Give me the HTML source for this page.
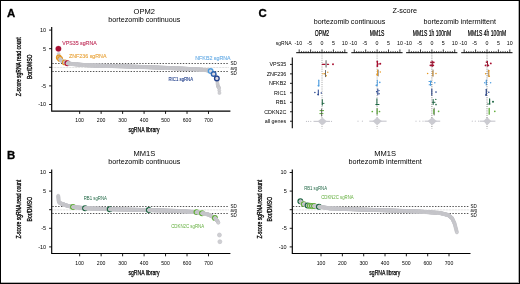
<!DOCTYPE html><html><head><meta charset="utf-8"><style>html,body{margin:0;padding:0;background:#fff;}svg{display:block;will-change:transform;}</style></head><body>
<svg width="520" height="284" viewBox="0 0 520 284" font-family="Liberation Sans, sans-serif">
<rect x="0" y="0" width="520" height="284" fill="#fff"/>
<text x="6.90" y="16.60" font-size="11.4" fill="#000" font-weight="bold" stroke="#000" stroke-width="0.3">A</text>
<text x="144.30" y="13.60" font-size="7.8" fill="#000" text-anchor="middle" textLength="21.40" lengthAdjust="spacingAndGlyphs">OPM2</text>
<text x="144.30" y="22.00" font-size="7.2" fill="#000" text-anchor="middle" textLength="71.90" lengthAdjust="spacingAndGlyphs">bortezomib continuous</text>
<text x="21.10" y="66.80" font-size="6.4" fill="#000" text-anchor="middle" textLength="58.80" lengthAdjust="spacingAndGlyphs" transform="rotate(-90 21.10 66.80)" stroke="#000" stroke-width="0.3">Z-score sgRNA read count</text>
<text x="31.80" y="66.80" font-size="6.4" fill="#000" text-anchor="middle" textLength="24.60" lengthAdjust="spacingAndGlyphs" transform="rotate(-90 31.80 66.80)" stroke="#000" stroke-width="0.3">Bor/DMSO</text>
<line x1="52.30" y1="63.50" x2="229.10" y2="63.50" stroke="#444" stroke-width="0.9" stroke-dasharray="1.45 1.45"/>
<line x1="52.30" y1="71.50" x2="229.10" y2="71.50" stroke="#444" stroke-width="0.9" stroke-dasharray="1.45 1.45"/>
<line x1="52.30" y1="67.50" x2="229.10" y2="67.50" stroke="#c4c4c4" stroke-width="0.7" stroke-dasharray="0.8 0.7"/>
<text x="230.40" y="65.20" font-size="4.6" fill="#000" textLength="6.30" lengthAdjust="spacingAndGlyphs">SD</text>
<text x="230.40" y="70.20" font-size="4.6" fill="#000" textLength="6.50" lengthAdjust="spacingAndGlyphs">avg</text>
<text x="230.40" y="74.60" font-size="4.6" fill="#000" textLength="6.30" lengthAdjust="spacingAndGlyphs">SD</text>
<path d="M51.70 27.00V111.10H230.40" fill="none" stroke="#000" stroke-width="1.15"/>
<line x1="49.10" y1="30.10" x2="51.70" y2="30.10" stroke="#000" stroke-width="0.9"/>
<text x="46.10" y="32.05" font-size="5.5" fill="#000" text-anchor="end">10</text>
<line x1="49.10" y1="48.70" x2="51.70" y2="48.70" stroke="#000" stroke-width="0.9"/>
<text x="46.10" y="50.65" font-size="5.5" fill="#000" text-anchor="end">5</text>
<line x1="49.10" y1="67.30" x2="51.70" y2="67.30" stroke="#000" stroke-width="0.9"/>
<line x1="49.10" y1="85.90" x2="51.70" y2="85.90" stroke="#000" stroke-width="0.9"/>
<text x="46.10" y="87.85" font-size="5.5" fill="#000" text-anchor="end">-5</text>
<line x1="49.10" y1="104.50" x2="51.70" y2="104.50" stroke="#000" stroke-width="0.9"/>
<text x="46.10" y="106.45" font-size="5.5" fill="#000" text-anchor="end">-10</text>
<line x1="79.67" y1="111.10" x2="79.67" y2="113.90" stroke="#000" stroke-width="0.9"/>
<text x="79.67" y="122.00" font-size="5.3" fill="#000" text-anchor="middle" textLength="8.60" lengthAdjust="spacingAndGlyphs">100</text>
<line x1="101.14" y1="111.10" x2="101.14" y2="113.90" stroke="#000" stroke-width="0.9"/>
<text x="101.14" y="122.00" font-size="5.3" fill="#000" text-anchor="middle" textLength="8.60" lengthAdjust="spacingAndGlyphs">200</text>
<line x1="122.61" y1="111.10" x2="122.61" y2="113.90" stroke="#000" stroke-width="0.9"/>
<text x="122.61" y="122.00" font-size="5.3" fill="#000" text-anchor="middle" textLength="8.60" lengthAdjust="spacingAndGlyphs">300</text>
<line x1="144.08" y1="111.10" x2="144.08" y2="113.90" stroke="#000" stroke-width="0.9"/>
<text x="144.08" y="122.00" font-size="5.3" fill="#000" text-anchor="middle" textLength="8.60" lengthAdjust="spacingAndGlyphs">400</text>
<line x1="165.55" y1="111.10" x2="165.55" y2="113.90" stroke="#000" stroke-width="0.9"/>
<text x="165.55" y="122.00" font-size="5.3" fill="#000" text-anchor="middle" textLength="8.60" lengthAdjust="spacingAndGlyphs">500</text>
<line x1="187.02" y1="111.10" x2="187.02" y2="113.90" stroke="#000" stroke-width="0.9"/>
<text x="187.02" y="122.00" font-size="5.3" fill="#000" text-anchor="middle" textLength="8.60" lengthAdjust="spacingAndGlyphs">600</text>
<line x1="208.49" y1="111.10" x2="208.49" y2="113.90" stroke="#000" stroke-width="0.9"/>
<text x="208.49" y="122.00" font-size="5.3" fill="#000" text-anchor="middle" textLength="8.60" lengthAdjust="spacingAndGlyphs">700</text>
<text x="144.00" y="132.40" font-size="7.0" fill="#000" text-anchor="middle" textLength="31.00" lengthAdjust="spacingAndGlyphs" stroke="#000" stroke-width="0.25">sgRNA library</text>
<g fill="#cfcfd3" stroke="#c3c3c8" stroke-width="0.65">
<circle cx="58.41" cy="48.81" r="2.75" fill="#a90f33" stroke="#a90f33" stroke-width="0.3"/>
<circle cx="58.63" cy="53.91" r="1.5"/>
<circle cx="58.84" cy="57.40" r="2.3" fill="#dcd8e2" stroke="#e5961f" stroke-width="1.35"/>
<circle cx="59.06" cy="57.80" r="1.5"/>
<circle cx="59.27" cy="58.19" r="1.5"/>
<circle cx="59.49" cy="58.36" r="1.5"/>
<circle cx="59.70" cy="58.54" r="1.5"/>
<circle cx="59.92" cy="58.72" r="1.5"/>
<circle cx="60.13" cy="58.89" r="2.3" fill="#dcd8e2" stroke="#e5961f" stroke-width="1.35"/>
<circle cx="60.35" cy="59.21" r="1.5"/>
<circle cx="60.56" cy="59.53" r="1.5"/>
<circle cx="60.78" cy="59.85" r="1.5"/>
<circle cx="60.99" cy="60.17" r="1.5"/>
<circle cx="61.21" cy="60.49" r="1.5"/>
<circle cx="61.42" cy="60.63" r="1.5"/>
<circle cx="61.64" cy="60.78" r="1.5"/>
<circle cx="61.85" cy="60.92" r="1.5"/>
<circle cx="62.06" cy="61.06" r="1.5"/>
<circle cx="62.28" cy="61.21" r="1.5"/>
<circle cx="62.49" cy="61.35" r="1.5"/>
<circle cx="62.71" cy="61.44" r="1.5"/>
<circle cx="62.92" cy="61.54" r="1.5"/>
<circle cx="63.14" cy="61.63" r="1.5"/>
<circle cx="63.35" cy="61.73" r="1.5"/>
<circle cx="63.57" cy="61.82" r="1.5"/>
<circle cx="63.78" cy="61.92" r="1.5"/>
<circle cx="64.00" cy="62.01" r="1.5"/>
<circle cx="64.21" cy="62.11" r="1.5"/>
<circle cx="64.43" cy="62.20" r="1.5"/>
<circle cx="64.64" cy="62.29" r="1.5"/>
<circle cx="64.86" cy="62.39" r="2.3" fill="#dcd8e2" stroke="#e5961f" stroke-width="1.35"/>
<circle cx="65.07" cy="62.46" r="1.5"/>
<circle cx="65.29" cy="62.53" r="1.5"/>
<circle cx="65.50" cy="62.59" r="1.5"/>
<circle cx="65.71" cy="62.66" r="1.5"/>
<circle cx="65.93" cy="62.73" r="1.5"/>
<circle cx="66.14" cy="62.80" r="1.5"/>
<circle cx="66.36" cy="62.87" r="1.5"/>
<circle cx="66.57" cy="62.94" r="1.5"/>
<circle cx="66.79" cy="63.00" r="1.5"/>
<circle cx="67.00" cy="63.07" r="1.5"/>
<circle cx="67.22" cy="63.14" r="1.5"/>
<circle cx="67.43" cy="63.21" r="2.3" fill="#dcd8e2" stroke="#b3133c" stroke-width="1.35"/>
<circle cx="67.65" cy="63.25" r="1.5"/>
<circle cx="67.86" cy="63.28" r="1.5"/>
<circle cx="68.08" cy="63.32" r="1.5"/>
<circle cx="68.29" cy="63.36" r="1.5"/>
<circle cx="68.51" cy="63.39" r="1.5"/>
<circle cx="68.72" cy="63.43" r="1.5"/>
<circle cx="68.94" cy="63.47" r="1.5"/>
<circle cx="69.15" cy="63.51" r="1.5"/>
<circle cx="69.36" cy="63.54" r="1.5"/>
<circle cx="69.58" cy="63.58" r="1.5"/>
<circle cx="69.79" cy="63.62" r="1.5"/>
<circle cx="70.01" cy="63.65" r="1.5"/>
<circle cx="70.22" cy="63.69" r="1.5"/>
<circle cx="70.44" cy="63.73" r="1.5"/>
<circle cx="70.65" cy="63.77" r="1.5"/>
<circle cx="70.87" cy="63.80" r="1.5"/>
<circle cx="71.08" cy="63.84" r="1.5"/>
<circle cx="71.30" cy="63.88" r="1.5"/>
<circle cx="71.51" cy="63.91" r="1.5"/>
<circle cx="71.73" cy="63.95" r="1.5"/>
<circle cx="71.94" cy="63.99" r="1.5"/>
<circle cx="72.16" cy="64.01" r="1.5"/>
<circle cx="72.37" cy="64.03" r="1.5"/>
<circle cx="72.58" cy="64.05" r="1.5"/>
<circle cx="72.80" cy="64.06" r="1.5"/>
<circle cx="73.01" cy="64.08" r="1.5"/>
<circle cx="73.23" cy="64.10" r="1.5"/>
<circle cx="73.44" cy="64.12" r="1.5"/>
<circle cx="73.66" cy="64.14" r="1.5"/>
<circle cx="73.87" cy="64.16" r="1.5"/>
<circle cx="74.09" cy="64.18" r="1.5"/>
<circle cx="74.30" cy="64.19" r="1.5"/>
<circle cx="74.52" cy="64.21" r="1.5"/>
<circle cx="74.73" cy="64.23" r="1.5"/>
<circle cx="74.95" cy="64.25" r="1.5"/>
<circle cx="75.16" cy="64.27" r="1.5"/>
<circle cx="75.38" cy="64.29" r="1.5"/>
<circle cx="75.59" cy="64.31" r="1.5"/>
<circle cx="75.81" cy="64.32" r="1.5"/>
<circle cx="76.02" cy="64.34" r="1.5"/>
<circle cx="76.23" cy="64.36" r="1.5"/>
<circle cx="76.45" cy="64.38" r="1.5"/>
<circle cx="76.66" cy="64.40" r="1.5"/>
<circle cx="76.88" cy="64.42" r="1.5"/>
<circle cx="77.09" cy="64.44" r="1.5"/>
<circle cx="77.31" cy="64.45" r="1.5"/>
<circle cx="77.52" cy="64.47" r="1.5"/>
<circle cx="77.74" cy="64.49" r="1.5"/>
<circle cx="77.95" cy="64.51" r="1.5"/>
<circle cx="78.17" cy="64.53" r="1.5"/>
<circle cx="78.38" cy="64.55" r="1.5"/>
<circle cx="78.60" cy="64.57" r="1.5"/>
<circle cx="78.81" cy="64.58" r="1.5"/>
<circle cx="79.03" cy="64.60" r="1.5"/>
<circle cx="79.24" cy="64.62" r="1.5"/>
<circle cx="79.46" cy="64.64" r="1.5"/>
<circle cx="79.67" cy="64.66" r="1.5"/>
<circle cx="79.88" cy="64.68" r="1.5"/>
<circle cx="80.10" cy="64.70" r="1.5"/>
<circle cx="80.31" cy="64.71" r="1.5"/>
<circle cx="80.53" cy="64.73" r="1.5"/>
<circle cx="80.74" cy="64.75" r="1.5"/>
<circle cx="80.96" cy="64.77" r="1.5"/>
<circle cx="81.17" cy="64.79" r="1.5"/>
<circle cx="81.39" cy="64.81" r="1.5"/>
<circle cx="81.60" cy="64.83" r="1.5"/>
<circle cx="81.82" cy="64.84" r="1.5"/>
<circle cx="82.03" cy="64.86" r="1.5"/>
<circle cx="82.25" cy="64.88" r="1.5"/>
<circle cx="82.46" cy="64.90" r="1.5"/>
<circle cx="82.68" cy="64.92" r="1.5"/>
<circle cx="82.89" cy="64.94" r="1.5"/>
<circle cx="83.11" cy="64.96" r="1.5"/>
<circle cx="83.32" cy="64.97" r="1.5"/>
<circle cx="83.53" cy="64.99" r="1.5"/>
<circle cx="83.75" cy="65.01" r="1.5"/>
<circle cx="83.96" cy="65.03" r="1.5"/>
<circle cx="84.18" cy="65.05" r="1.5"/>
<circle cx="84.39" cy="65.07" r="1.5"/>
<circle cx="84.61" cy="65.09" r="1.5"/>
<circle cx="84.82" cy="65.11" r="1.5"/>
<circle cx="85.04" cy="65.12" r="1.5"/>
<circle cx="85.25" cy="65.14" r="1.5"/>
<circle cx="85.47" cy="65.16" r="1.5"/>
<circle cx="85.68" cy="65.18" r="1.5"/>
<circle cx="85.90" cy="65.20" r="1.5"/>
<circle cx="86.11" cy="65.22" r="1.5"/>
<circle cx="86.33" cy="65.22" r="1.5"/>
<circle cx="86.54" cy="65.23" r="1.5"/>
<circle cx="86.76" cy="65.24" r="1.5"/>
<circle cx="86.97" cy="65.25" r="1.5"/>
<circle cx="87.18" cy="65.25" r="1.5"/>
<circle cx="87.40" cy="65.26" r="1.5"/>
<circle cx="87.61" cy="65.27" r="1.5"/>
<circle cx="87.83" cy="65.27" r="1.5"/>
<circle cx="88.04" cy="65.28" r="1.5"/>
<circle cx="88.26" cy="65.29" r="1.5"/>
<circle cx="88.47" cy="65.30" r="1.5"/>
<circle cx="88.69" cy="65.30" r="1.5"/>
<circle cx="88.90" cy="65.31" r="1.5"/>
<circle cx="89.12" cy="65.32" r="1.5"/>
<circle cx="89.33" cy="65.32" r="1.5"/>
<circle cx="89.55" cy="65.33" r="1.5"/>
<circle cx="89.76" cy="65.34" r="1.5"/>
<circle cx="89.98" cy="65.35" r="1.5"/>
<circle cx="90.19" cy="65.35" r="1.5"/>
<circle cx="90.41" cy="65.36" r="1.5"/>
<circle cx="90.62" cy="65.37" r="1.5"/>
<circle cx="90.83" cy="65.38" r="1.5"/>
<circle cx="91.05" cy="65.38" r="1.5"/>
<circle cx="91.26" cy="65.39" r="1.5"/>
<circle cx="91.48" cy="65.40" r="1.5"/>
<circle cx="91.69" cy="65.40" r="1.5"/>
<circle cx="91.91" cy="65.41" r="1.5"/>
<circle cx="92.12" cy="65.42" r="1.5"/>
<circle cx="92.34" cy="65.43" r="1.5"/>
<circle cx="92.55" cy="65.43" r="1.5"/>
<circle cx="92.77" cy="65.44" r="1.5"/>
<circle cx="92.98" cy="65.45" r="1.5"/>
<circle cx="93.20" cy="65.45" r="1.5"/>
<circle cx="93.41" cy="65.46" r="1.5"/>
<circle cx="93.63" cy="65.47" r="1.5"/>
<circle cx="93.84" cy="65.48" r="1.5"/>
<circle cx="94.05" cy="65.48" r="1.5"/>
<circle cx="94.27" cy="65.49" r="1.5"/>
<circle cx="94.48" cy="65.50" r="1.5"/>
<circle cx="94.70" cy="65.50" r="1.5"/>
<circle cx="94.91" cy="65.51" r="1.5"/>
<circle cx="95.13" cy="65.52" r="1.5"/>
<circle cx="95.34" cy="65.53" r="1.5"/>
<circle cx="95.56" cy="65.53" r="1.5"/>
<circle cx="95.77" cy="65.54" r="1.5"/>
<circle cx="95.99" cy="65.55" r="1.5"/>
<circle cx="96.20" cy="65.56" r="1.5"/>
<circle cx="96.42" cy="65.56" r="1.5"/>
<circle cx="96.63" cy="65.57" r="1.5"/>
<circle cx="96.85" cy="65.58" r="1.5"/>
<circle cx="97.06" cy="65.58" r="1.5"/>
<circle cx="97.28" cy="65.59" r="1.5"/>
<circle cx="97.49" cy="65.60" r="1.5"/>
<circle cx="97.70" cy="65.61" r="1.5"/>
<circle cx="97.92" cy="65.61" r="1.5"/>
<circle cx="98.13" cy="65.62" r="1.5"/>
<circle cx="98.35" cy="65.63" r="1.5"/>
<circle cx="98.56" cy="65.63" r="1.5"/>
<circle cx="98.78" cy="65.64" r="1.5"/>
<circle cx="98.99" cy="65.65" r="1.5"/>
<circle cx="99.21" cy="65.66" r="1.5"/>
<circle cx="99.42" cy="65.66" r="1.5"/>
<circle cx="99.64" cy="65.67" r="1.5"/>
<circle cx="99.85" cy="65.68" r="1.5"/>
<circle cx="100.07" cy="65.68" r="1.5"/>
<circle cx="100.28" cy="65.69" r="1.5"/>
<circle cx="100.50" cy="65.70" r="1.5"/>
<circle cx="100.71" cy="65.71" r="1.5"/>
<circle cx="100.93" cy="65.71" r="1.5"/>
<circle cx="101.14" cy="65.72" r="1.5"/>
<circle cx="101.35" cy="65.73" r="1.5"/>
<circle cx="101.57" cy="65.74" r="1.5"/>
<circle cx="101.78" cy="65.74" r="1.5"/>
<circle cx="102.00" cy="65.75" r="1.5"/>
<circle cx="102.21" cy="65.76" r="1.5"/>
<circle cx="102.43" cy="65.76" r="1.5"/>
<circle cx="102.64" cy="65.77" r="1.5"/>
<circle cx="102.86" cy="65.78" r="1.5"/>
<circle cx="103.07" cy="65.79" r="1.5"/>
<circle cx="103.29" cy="65.79" r="1.5"/>
<circle cx="103.50" cy="65.80" r="1.5"/>
<circle cx="103.72" cy="65.81" r="1.5"/>
<circle cx="103.93" cy="65.81" r="1.5"/>
<circle cx="104.15" cy="65.82" r="1.5"/>
<circle cx="104.36" cy="65.83" r="1.5"/>
<circle cx="104.58" cy="65.84" r="1.5"/>
<circle cx="104.79" cy="65.84" r="1.5"/>
<circle cx="105.00" cy="65.85" r="1.5"/>
<circle cx="105.22" cy="65.86" r="1.5"/>
<circle cx="105.43" cy="65.86" r="1.5"/>
<circle cx="105.65" cy="65.87" r="1.5"/>
<circle cx="105.86" cy="65.88" r="1.5"/>
<circle cx="106.08" cy="65.89" r="1.5"/>
<circle cx="106.29" cy="65.89" r="1.5"/>
<circle cx="106.51" cy="65.90" r="1.5"/>
<circle cx="106.72" cy="65.90" r="1.5"/>
<circle cx="106.94" cy="65.91" r="1.5"/>
<circle cx="107.15" cy="65.91" r="1.5"/>
<circle cx="107.37" cy="65.92" r="1.5"/>
<circle cx="107.58" cy="65.93" r="1.5"/>
<circle cx="107.80" cy="65.93" r="1.5"/>
<circle cx="108.01" cy="65.94" r="1.5"/>
<circle cx="108.23" cy="65.94" r="1.5"/>
<circle cx="108.44" cy="65.95" r="1.5"/>
<circle cx="108.65" cy="65.95" r="1.5"/>
<circle cx="108.87" cy="65.96" r="1.5"/>
<circle cx="109.08" cy="65.96" r="1.5"/>
<circle cx="109.30" cy="65.97" r="1.5"/>
<circle cx="109.51" cy="65.98" r="1.5"/>
<circle cx="109.73" cy="65.98" r="1.5"/>
<circle cx="109.94" cy="65.99" r="1.5"/>
<circle cx="110.16" cy="65.99" r="1.5"/>
<circle cx="110.37" cy="66.00" r="1.5"/>
<circle cx="110.59" cy="66.00" r="1.5"/>
<circle cx="110.80" cy="66.01" r="1.5"/>
<circle cx="111.02" cy="66.02" r="1.5"/>
<circle cx="111.23" cy="66.02" r="1.5"/>
<circle cx="111.45" cy="66.03" r="1.5"/>
<circle cx="111.66" cy="66.03" r="1.5"/>
<circle cx="111.88" cy="66.04" r="1.5"/>
<circle cx="112.09" cy="66.04" r="1.5"/>
<circle cx="112.30" cy="66.05" r="1.5"/>
<circle cx="112.52" cy="66.05" r="1.5"/>
<circle cx="112.73" cy="66.06" r="1.5"/>
<circle cx="112.95" cy="66.07" r="1.5"/>
<circle cx="113.16" cy="66.07" r="1.5"/>
<circle cx="113.38" cy="66.08" r="1.5"/>
<circle cx="113.59" cy="66.08" r="1.5"/>
<circle cx="113.81" cy="66.09" r="1.5"/>
<circle cx="114.02" cy="66.09" r="1.5"/>
<circle cx="114.24" cy="66.10" r="1.5"/>
<circle cx="114.45" cy="66.10" r="1.5"/>
<circle cx="114.67" cy="66.11" r="1.5"/>
<circle cx="114.88" cy="66.12" r="1.5"/>
<circle cx="115.10" cy="66.12" r="1.5"/>
<circle cx="115.31" cy="66.13" r="1.5"/>
<circle cx="115.52" cy="66.13" r="1.5"/>
<circle cx="115.74" cy="66.14" r="1.5"/>
<circle cx="115.95" cy="66.14" r="1.5"/>
<circle cx="116.17" cy="66.15" r="1.5"/>
<circle cx="116.38" cy="66.16" r="1.5"/>
<circle cx="116.60" cy="66.16" r="1.5"/>
<circle cx="116.81" cy="66.17" r="1.5"/>
<circle cx="117.03" cy="66.17" r="1.5"/>
<circle cx="117.24" cy="66.18" r="1.5"/>
<circle cx="117.46" cy="66.18" r="1.5"/>
<circle cx="117.67" cy="66.19" r="1.5"/>
<circle cx="117.89" cy="66.19" r="1.5"/>
<circle cx="118.10" cy="66.20" r="1.5"/>
<circle cx="118.32" cy="66.21" r="1.5"/>
<circle cx="118.53" cy="66.21" r="1.5"/>
<circle cx="118.75" cy="66.22" r="1.5"/>
<circle cx="118.96" cy="66.22" r="1.5"/>
<circle cx="119.17" cy="66.23" r="1.5"/>
<circle cx="119.39" cy="66.23" r="1.5"/>
<circle cx="119.60" cy="66.24" r="1.5"/>
<circle cx="119.82" cy="66.24" r="1.5"/>
<circle cx="120.03" cy="66.25" r="1.5"/>
<circle cx="120.25" cy="66.26" r="1.5"/>
<circle cx="120.46" cy="66.26" r="1.5"/>
<circle cx="120.68" cy="66.27" r="1.5"/>
<circle cx="120.89" cy="66.27" r="1.5"/>
<circle cx="121.11" cy="66.28" r="1.5"/>
<circle cx="121.32" cy="66.28" r="1.5"/>
<circle cx="121.54" cy="66.29" r="1.5"/>
<circle cx="121.75" cy="66.30" r="1.5"/>
<circle cx="121.97" cy="66.30" r="1.5"/>
<circle cx="122.18" cy="66.31" r="1.5"/>
<circle cx="122.40" cy="66.31" r="1.5"/>
<circle cx="122.61" cy="66.32" r="1.5"/>
<circle cx="122.82" cy="66.32" r="1.5"/>
<circle cx="123.04" cy="66.33" r="1.5"/>
<circle cx="123.25" cy="66.33" r="1.5"/>
<circle cx="123.47" cy="66.34" r="1.5"/>
<circle cx="123.68" cy="66.35" r="1.5"/>
<circle cx="123.90" cy="66.35" r="1.5"/>
<circle cx="124.11" cy="66.36" r="1.5"/>
<circle cx="124.33" cy="66.36" r="1.5"/>
<circle cx="124.54" cy="66.37" r="1.5"/>
<circle cx="124.76" cy="66.37" r="1.5"/>
<circle cx="124.97" cy="66.38" r="1.5"/>
<circle cx="125.19" cy="66.38" r="1.5"/>
<circle cx="125.40" cy="66.39" r="1.5"/>
<circle cx="125.62" cy="66.40" r="1.5"/>
<circle cx="125.83" cy="66.40" r="1.5"/>
<circle cx="126.05" cy="66.41" r="1.5"/>
<circle cx="126.26" cy="66.41" r="1.5"/>
<circle cx="126.47" cy="66.42" r="1.5"/>
<circle cx="126.69" cy="66.43" r="1.5"/>
<circle cx="126.90" cy="66.44" r="1.5"/>
<circle cx="127.12" cy="66.45" r="1.5"/>
<circle cx="127.33" cy="66.45" r="1.5"/>
<circle cx="127.55" cy="66.46" r="1.5"/>
<circle cx="127.76" cy="66.47" r="1.5"/>
<circle cx="127.98" cy="66.48" r="1.5"/>
<circle cx="128.19" cy="66.48" r="1.5"/>
<circle cx="128.41" cy="66.49" r="1.5"/>
<circle cx="128.62" cy="66.50" r="1.5"/>
<circle cx="128.84" cy="66.51" r="1.5"/>
<circle cx="129.05" cy="66.51" r="1.5"/>
<circle cx="129.27" cy="66.52" r="1.5"/>
<circle cx="129.48" cy="66.53" r="1.5"/>
<circle cx="129.70" cy="66.54" r="1.5"/>
<circle cx="129.91" cy="66.54" r="1.5"/>
<circle cx="130.12" cy="66.55" r="1.5"/>
<circle cx="130.34" cy="66.56" r="1.5"/>
<circle cx="130.55" cy="66.57" r="1.5"/>
<circle cx="130.77" cy="66.57" r="1.5"/>
<circle cx="130.98" cy="66.58" r="1.5"/>
<circle cx="131.20" cy="66.59" r="1.5"/>
<circle cx="131.41" cy="66.60" r="1.5"/>
<circle cx="131.63" cy="66.60" r="1.5"/>
<circle cx="131.84" cy="66.61" r="1.5"/>
<circle cx="132.06" cy="66.62" r="1.5"/>
<circle cx="132.27" cy="66.63" r="1.5"/>
<circle cx="132.49" cy="66.64" r="1.5"/>
<circle cx="132.70" cy="66.64" r="1.5"/>
<circle cx="132.92" cy="66.65" r="1.5"/>
<circle cx="133.13" cy="66.66" r="1.5"/>
<circle cx="133.34" cy="66.67" r="1.5"/>
<circle cx="133.56" cy="66.67" r="1.5"/>
<circle cx="133.77" cy="66.68" r="1.5"/>
<circle cx="133.99" cy="66.69" r="1.5"/>
<circle cx="134.20" cy="66.70" r="1.5"/>
<circle cx="134.42" cy="66.70" r="1.5"/>
<circle cx="134.63" cy="66.71" r="1.5"/>
<circle cx="134.85" cy="66.72" r="1.5"/>
<circle cx="135.06" cy="66.73" r="1.5"/>
<circle cx="135.28" cy="66.73" r="1.5"/>
<circle cx="135.49" cy="66.74" r="1.5"/>
<circle cx="135.71" cy="66.75" r="1.5"/>
<circle cx="135.92" cy="66.76" r="1.5"/>
<circle cx="136.14" cy="66.76" r="1.5"/>
<circle cx="136.35" cy="66.77" r="1.5"/>
<circle cx="136.57" cy="66.78" r="1.5"/>
<circle cx="136.78" cy="66.79" r="1.5"/>
<circle cx="136.99" cy="66.79" r="1.5"/>
<circle cx="137.21" cy="66.80" r="1.5"/>
<circle cx="137.42" cy="66.81" r="1.5"/>
<circle cx="137.64" cy="66.82" r="1.5"/>
<circle cx="137.85" cy="66.83" r="1.5"/>
<circle cx="138.07" cy="66.83" r="1.5"/>
<circle cx="138.28" cy="66.84" r="1.5"/>
<circle cx="138.50" cy="66.85" r="1.5"/>
<circle cx="138.71" cy="66.86" r="1.5"/>
<circle cx="138.93" cy="66.86" r="1.5"/>
<circle cx="139.14" cy="66.87" r="1.5"/>
<circle cx="139.36" cy="66.88" r="1.5"/>
<circle cx="139.57" cy="66.89" r="1.5"/>
<circle cx="139.79" cy="66.89" r="1.5"/>
<circle cx="140.00" cy="66.90" r="1.5"/>
<circle cx="140.22" cy="66.91" r="1.5"/>
<circle cx="140.43" cy="66.92" r="1.5"/>
<circle cx="140.64" cy="66.92" r="1.5"/>
<circle cx="140.86" cy="66.93" r="1.5"/>
<circle cx="141.07" cy="66.94" r="1.5"/>
<circle cx="141.29" cy="66.95" r="1.5"/>
<circle cx="141.50" cy="66.95" r="1.5"/>
<circle cx="141.72" cy="66.96" r="1.5"/>
<circle cx="141.93" cy="66.97" r="1.5"/>
<circle cx="142.15" cy="66.98" r="1.5"/>
<circle cx="142.36" cy="66.98" r="1.5"/>
<circle cx="142.58" cy="66.99" r="1.5"/>
<circle cx="142.79" cy="67.00" r="1.5"/>
<circle cx="143.01" cy="67.01" r="1.5"/>
<circle cx="143.22" cy="67.02" r="1.5"/>
<circle cx="143.44" cy="67.02" r="1.5"/>
<circle cx="143.65" cy="67.03" r="1.5"/>
<circle cx="143.87" cy="67.04" r="1.5"/>
<circle cx="144.08" cy="67.05" r="1.5"/>
<circle cx="144.29" cy="67.05" r="1.5"/>
<circle cx="144.51" cy="67.06" r="1.5"/>
<circle cx="144.72" cy="67.07" r="1.5"/>
<circle cx="144.94" cy="67.08" r="1.5"/>
<circle cx="145.15" cy="67.08" r="1.5"/>
<circle cx="145.37" cy="67.09" r="1.5"/>
<circle cx="145.58" cy="67.10" r="1.5"/>
<circle cx="145.80" cy="67.11" r="1.5"/>
<circle cx="146.01" cy="67.11" r="1.5"/>
<circle cx="146.23" cy="67.12" r="1.5"/>
<circle cx="146.44" cy="67.13" r="1.5"/>
<circle cx="146.66" cy="67.14" r="1.5"/>
<circle cx="146.87" cy="67.15" r="1.5"/>
<circle cx="147.09" cy="67.16" r="1.5"/>
<circle cx="147.30" cy="67.16" r="1.5"/>
<circle cx="147.52" cy="67.17" r="1.5"/>
<circle cx="147.73" cy="67.18" r="1.5"/>
<circle cx="147.94" cy="67.19" r="1.5"/>
<circle cx="148.16" cy="67.20" r="1.5"/>
<circle cx="148.37" cy="67.21" r="1.5"/>
<circle cx="148.59" cy="67.21" r="1.5"/>
<circle cx="148.80" cy="67.22" r="1.5"/>
<circle cx="149.02" cy="67.23" r="1.5"/>
<circle cx="149.23" cy="67.24" r="1.5"/>
<circle cx="149.45" cy="67.25" r="1.5"/>
<circle cx="149.66" cy="67.26" r="1.5"/>
<circle cx="149.88" cy="67.27" r="1.5"/>
<circle cx="150.09" cy="67.27" r="1.5"/>
<circle cx="150.31" cy="67.28" r="1.5"/>
<circle cx="150.52" cy="67.29" r="1.5"/>
<circle cx="150.74" cy="67.30" r="1.5"/>
<circle cx="150.95" cy="67.31" r="1.5"/>
<circle cx="151.17" cy="67.32" r="1.5"/>
<circle cx="151.38" cy="67.32" r="1.5"/>
<circle cx="151.59" cy="67.33" r="1.5"/>
<circle cx="151.81" cy="67.34" r="1.5"/>
<circle cx="152.02" cy="67.35" r="1.5"/>
<circle cx="152.24" cy="67.36" r="1.5"/>
<circle cx="152.45" cy="67.37" r="1.5"/>
<circle cx="152.67" cy="67.37" r="1.5"/>
<circle cx="152.88" cy="67.38" r="1.5"/>
<circle cx="153.10" cy="67.39" r="1.5"/>
<circle cx="153.31" cy="67.40" r="1.5"/>
<circle cx="153.53" cy="67.41" r="1.5"/>
<circle cx="153.74" cy="67.42" r="1.5"/>
<circle cx="153.96" cy="67.42" r="1.5"/>
<circle cx="154.17" cy="67.43" r="1.5"/>
<circle cx="154.39" cy="67.44" r="1.5"/>
<circle cx="154.60" cy="67.45" r="1.5"/>
<circle cx="154.81" cy="67.46" r="1.5"/>
<circle cx="155.03" cy="67.47" r="1.5"/>
<circle cx="155.24" cy="67.48" r="1.5"/>
<circle cx="155.46" cy="67.48" r="1.5"/>
<circle cx="155.67" cy="67.49" r="1.5"/>
<circle cx="155.89" cy="67.50" r="1.5"/>
<circle cx="156.10" cy="67.51" r="1.5"/>
<circle cx="156.32" cy="67.52" r="1.5"/>
<circle cx="156.53" cy="67.53" r="1.5"/>
<circle cx="156.75" cy="67.53" r="1.5"/>
<circle cx="156.96" cy="67.54" r="1.5"/>
<circle cx="157.18" cy="67.55" r="1.5"/>
<circle cx="157.39" cy="67.56" r="1.5"/>
<circle cx="157.61" cy="67.57" r="1.5"/>
<circle cx="157.82" cy="67.58" r="1.5"/>
<circle cx="158.04" cy="67.58" r="1.5"/>
<circle cx="158.25" cy="67.59" r="1.5"/>
<circle cx="158.46" cy="67.60" r="1.5"/>
<circle cx="158.68" cy="67.61" r="1.5"/>
<circle cx="158.89" cy="67.62" r="1.5"/>
<circle cx="159.11" cy="67.63" r="1.5"/>
<circle cx="159.32" cy="67.63" r="1.5"/>
<circle cx="159.54" cy="67.64" r="1.5"/>
<circle cx="159.75" cy="67.65" r="1.5"/>
<circle cx="159.97" cy="67.66" r="1.5"/>
<circle cx="160.18" cy="67.67" r="1.5"/>
<circle cx="160.40" cy="67.68" r="1.5"/>
<circle cx="160.61" cy="67.69" r="1.5"/>
<circle cx="160.83" cy="67.69" r="1.5"/>
<circle cx="161.04" cy="67.70" r="1.5"/>
<circle cx="161.26" cy="67.71" r="1.5"/>
<circle cx="161.47" cy="67.72" r="1.5"/>
<circle cx="161.69" cy="67.73" r="1.5"/>
<circle cx="161.90" cy="67.74" r="1.5"/>
<circle cx="162.11" cy="67.74" r="1.5"/>
<circle cx="162.33" cy="67.75" r="1.5"/>
<circle cx="162.54" cy="67.76" r="1.5"/>
<circle cx="162.76" cy="67.77" r="1.5"/>
<circle cx="162.97" cy="67.78" r="1.5"/>
<circle cx="163.19" cy="67.79" r="1.5"/>
<circle cx="163.40" cy="67.79" r="1.5"/>
<circle cx="163.62" cy="67.80" r="1.5"/>
<circle cx="163.83" cy="67.81" r="1.5"/>
<circle cx="164.05" cy="67.82" r="1.5"/>
<circle cx="164.26" cy="67.83" r="1.5"/>
<circle cx="164.48" cy="67.84" r="1.5"/>
<circle cx="164.69" cy="67.84" r="1.5"/>
<circle cx="164.91" cy="67.85" r="1.5"/>
<circle cx="165.12" cy="67.86" r="1.5"/>
<circle cx="165.34" cy="67.87" r="1.5"/>
<circle cx="165.55" cy="67.88" r="1.5"/>
<circle cx="165.76" cy="67.89" r="1.5"/>
<circle cx="165.98" cy="67.90" r="1.5"/>
<circle cx="166.19" cy="67.90" r="1.5"/>
<circle cx="166.41" cy="67.91" r="1.5"/>
<circle cx="166.62" cy="67.92" r="1.5"/>
<circle cx="166.84" cy="67.93" r="1.5"/>
<circle cx="167.05" cy="67.94" r="1.5"/>
<circle cx="167.27" cy="67.95" r="1.5"/>
<circle cx="167.48" cy="67.96" r="1.5"/>
<circle cx="167.70" cy="67.97" r="1.5"/>
<circle cx="167.91" cy="67.98" r="1.5"/>
<circle cx="168.13" cy="67.99" r="1.5"/>
<circle cx="168.34" cy="68.00" r="1.5"/>
<circle cx="168.56" cy="68.01" r="1.5"/>
<circle cx="168.77" cy="68.02" r="1.5"/>
<circle cx="168.99" cy="68.03" r="1.5"/>
<circle cx="169.20" cy="68.04" r="1.5"/>
<circle cx="169.41" cy="68.05" r="1.5"/>
<circle cx="169.63" cy="68.06" r="1.5"/>
<circle cx="169.84" cy="68.07" r="1.5"/>
<circle cx="170.06" cy="68.08" r="1.5"/>
<circle cx="170.27" cy="68.09" r="1.5"/>
<circle cx="170.49" cy="68.09" r="1.5"/>
<circle cx="170.70" cy="68.10" r="1.5"/>
<circle cx="170.92" cy="68.11" r="1.5"/>
<circle cx="171.13" cy="68.12" r="1.5"/>
<circle cx="171.35" cy="68.13" r="1.5"/>
<circle cx="171.56" cy="68.14" r="1.5"/>
<circle cx="171.78" cy="68.15" r="1.5"/>
<circle cx="171.99" cy="68.16" r="1.5"/>
<circle cx="172.21" cy="68.17" r="1.5"/>
<circle cx="172.42" cy="68.18" r="1.5"/>
<circle cx="172.64" cy="68.19" r="1.5"/>
<circle cx="172.85" cy="68.20" r="1.5"/>
<circle cx="173.06" cy="68.21" r="1.5"/>
<circle cx="173.28" cy="68.22" r="1.5"/>
<circle cx="173.49" cy="68.23" r="1.5"/>
<circle cx="173.71" cy="68.24" r="1.5"/>
<circle cx="173.92" cy="68.25" r="1.5"/>
<circle cx="174.14" cy="68.26" r="1.5"/>
<circle cx="174.35" cy="68.27" r="1.5"/>
<circle cx="174.57" cy="68.28" r="1.5"/>
<circle cx="174.78" cy="68.28" r="1.5"/>
<circle cx="175.00" cy="68.29" r="1.5"/>
<circle cx="175.21" cy="68.30" r="1.5"/>
<circle cx="175.43" cy="68.31" r="1.5"/>
<circle cx="175.64" cy="68.32" r="1.5"/>
<circle cx="175.86" cy="68.33" r="1.5"/>
<circle cx="176.07" cy="68.34" r="1.5"/>
<circle cx="176.29" cy="68.35" r="1.5"/>
<circle cx="176.50" cy="68.36" r="1.5"/>
<circle cx="176.71" cy="68.37" r="1.5"/>
<circle cx="176.93" cy="68.38" r="1.5"/>
<circle cx="177.14" cy="68.39" r="1.5"/>
<circle cx="177.36" cy="68.40" r="1.5"/>
<circle cx="177.57" cy="68.41" r="1.5"/>
<circle cx="177.79" cy="68.42" r="1.5"/>
<circle cx="178.00" cy="68.43" r="1.5"/>
<circle cx="178.22" cy="68.44" r="1.5"/>
<circle cx="178.43" cy="68.45" r="1.5"/>
<circle cx="178.65" cy="68.46" r="1.5"/>
<circle cx="178.86" cy="68.47" r="1.5"/>
<circle cx="179.08" cy="68.47" r="1.5"/>
<circle cx="179.29" cy="68.48" r="1.5"/>
<circle cx="179.51" cy="68.49" r="1.5"/>
<circle cx="179.72" cy="68.50" r="1.5"/>
<circle cx="179.93" cy="68.51" r="1.5"/>
<circle cx="180.15" cy="68.52" r="1.5"/>
<circle cx="180.36" cy="68.53" r="1.5"/>
<circle cx="180.58" cy="68.54" r="1.5"/>
<circle cx="180.79" cy="68.55" r="1.5"/>
<circle cx="181.01" cy="68.56" r="1.5"/>
<circle cx="181.22" cy="68.57" r="1.5"/>
<circle cx="181.44" cy="68.58" r="1.5"/>
<circle cx="181.65" cy="68.59" r="1.5"/>
<circle cx="181.87" cy="68.60" r="1.5"/>
<circle cx="182.08" cy="68.61" r="1.5"/>
<circle cx="182.30" cy="68.62" r="1.5"/>
<circle cx="182.51" cy="68.63" r="1.5"/>
<circle cx="182.73" cy="68.64" r="1.5"/>
<circle cx="182.94" cy="68.65" r="1.5"/>
<circle cx="183.16" cy="68.66" r="1.5"/>
<circle cx="183.37" cy="68.66" r="1.5"/>
<circle cx="183.58" cy="68.67" r="1.5"/>
<circle cx="183.80" cy="68.68" r="1.5"/>
<circle cx="184.01" cy="68.69" r="1.5"/>
<circle cx="184.23" cy="68.70" r="1.5"/>
<circle cx="184.44" cy="68.71" r="1.5"/>
<circle cx="184.66" cy="68.72" r="1.5"/>
<circle cx="184.87" cy="68.73" r="1.5"/>
<circle cx="185.09" cy="68.74" r="1.5"/>
<circle cx="185.30" cy="68.75" r="1.5"/>
<circle cx="185.52" cy="68.76" r="1.5"/>
<circle cx="185.73" cy="68.77" r="1.5"/>
<circle cx="185.95" cy="68.78" r="1.5"/>
<circle cx="186.16" cy="68.79" r="1.5"/>
<circle cx="186.38" cy="68.80" r="1.5"/>
<circle cx="186.59" cy="68.81" r="1.5"/>
<circle cx="186.81" cy="68.83" r="1.5"/>
<circle cx="187.02" cy="68.84" r="1.5"/>
<circle cx="187.23" cy="68.85" r="1.5"/>
<circle cx="187.45" cy="68.86" r="1.5"/>
<circle cx="187.66" cy="68.88" r="1.5"/>
<circle cx="187.88" cy="68.89" r="1.5"/>
<circle cx="188.09" cy="68.90" r="1.5"/>
<circle cx="188.31" cy="68.91" r="1.5"/>
<circle cx="188.52" cy="68.93" r="1.5"/>
<circle cx="188.74" cy="68.94" r="1.5"/>
<circle cx="188.95" cy="68.95" r="1.5"/>
<circle cx="189.17" cy="68.96" r="1.5"/>
<circle cx="189.38" cy="68.98" r="1.5"/>
<circle cx="189.60" cy="68.99" r="1.5"/>
<circle cx="189.81" cy="69.00" r="1.5"/>
<circle cx="190.03" cy="69.01" r="1.5"/>
<circle cx="190.24" cy="69.03" r="1.5"/>
<circle cx="190.46" cy="69.04" r="1.5"/>
<circle cx="190.67" cy="69.05" r="1.5"/>
<circle cx="190.88" cy="69.06" r="1.5"/>
<circle cx="191.10" cy="69.08" r="1.5"/>
<circle cx="191.31" cy="69.09" r="1.5"/>
<circle cx="191.53" cy="69.10" r="1.5"/>
<circle cx="191.74" cy="69.12" r="1.5"/>
<circle cx="191.96" cy="69.13" r="1.5"/>
<circle cx="192.17" cy="69.14" r="1.5"/>
<circle cx="192.39" cy="69.15" r="1.5"/>
<circle cx="192.60" cy="69.17" r="1.5"/>
<circle cx="192.82" cy="69.18" r="1.5"/>
<circle cx="193.03" cy="69.19" r="1.5"/>
<circle cx="193.25" cy="69.20" r="1.5"/>
<circle cx="193.46" cy="69.22" r="1.5"/>
<circle cx="193.68" cy="69.23" r="1.5"/>
<circle cx="193.89" cy="69.24" r="1.5"/>
<circle cx="194.11" cy="69.25" r="1.5"/>
<circle cx="194.32" cy="69.27" r="1.5"/>
<circle cx="194.53" cy="69.28" r="1.5"/>
<circle cx="194.75" cy="69.29" r="1.5"/>
<circle cx="194.96" cy="69.30" r="1.5"/>
<circle cx="195.18" cy="69.32" r="1.5"/>
<circle cx="195.39" cy="69.33" r="1.5"/>
<circle cx="195.61" cy="69.34" r="1.5"/>
<circle cx="195.82" cy="69.35" r="1.5"/>
<circle cx="196.04" cy="69.37" r="1.5"/>
<circle cx="196.25" cy="69.38" r="1.5"/>
<circle cx="196.47" cy="69.39" r="1.5"/>
<circle cx="196.68" cy="69.40" r="1.5"/>
<circle cx="196.90" cy="69.42" r="1.5"/>
<circle cx="197.11" cy="69.43" r="1.5"/>
<circle cx="197.33" cy="69.44" r="1.5"/>
<circle cx="197.54" cy="69.46" r="1.5"/>
<circle cx="197.75" cy="69.47" r="1.5"/>
<circle cx="197.97" cy="69.48" r="1.5"/>
<circle cx="198.18" cy="69.49" r="1.5"/>
<circle cx="198.40" cy="69.51" r="1.5"/>
<circle cx="198.61" cy="69.52" r="1.5"/>
<circle cx="198.83" cy="69.53" r="1.5"/>
<circle cx="199.04" cy="69.54" r="1.5"/>
<circle cx="199.26" cy="69.56" r="1.5"/>
<circle cx="199.47" cy="69.57" r="1.5"/>
<circle cx="199.69" cy="69.58" r="1.5"/>
<circle cx="199.90" cy="69.59" r="1.5"/>
<circle cx="200.12" cy="69.61" r="1.5"/>
<circle cx="200.33" cy="69.62" r="1.5"/>
<circle cx="200.55" cy="69.64" r="1.5"/>
<circle cx="200.76" cy="69.66" r="1.5"/>
<circle cx="200.98" cy="69.68" r="1.5"/>
<circle cx="201.19" cy="69.69" r="1.5"/>
<circle cx="201.40" cy="69.71" r="1.5"/>
<circle cx="201.62" cy="69.73" r="1.5"/>
<circle cx="201.83" cy="69.74" r="1.5"/>
<circle cx="202.05" cy="69.76" r="1.5"/>
<circle cx="202.26" cy="69.78" r="1.5"/>
<circle cx="202.48" cy="69.80" r="1.5"/>
<circle cx="202.69" cy="69.81" r="1.5"/>
<circle cx="202.91" cy="69.83" r="1.5"/>
<circle cx="203.12" cy="69.85" r="1.5"/>
<circle cx="203.34" cy="69.87" r="1.5"/>
<circle cx="203.55" cy="69.88" r="1.5"/>
<circle cx="203.77" cy="69.90" r="1.5"/>
<circle cx="203.98" cy="69.92" r="1.5"/>
<circle cx="204.20" cy="69.93" r="1.5"/>
<circle cx="204.41" cy="69.95" r="1.5"/>
<circle cx="204.63" cy="69.97" r="1.5"/>
<circle cx="204.84" cy="69.99" r="1.5"/>
<circle cx="205.05" cy="70.00" r="1.5"/>
<circle cx="205.27" cy="70.02" r="1.5"/>
<circle cx="205.48" cy="70.04" r="1.5"/>
<circle cx="205.70" cy="70.06" r="1.5"/>
<circle cx="205.91" cy="70.07" r="1.5"/>
<circle cx="206.13" cy="70.09" r="1.5"/>
<circle cx="206.34" cy="70.13" r="1.5"/>
<circle cx="206.56" cy="70.18" r="1.5"/>
<circle cx="206.77" cy="70.22" r="1.5"/>
<circle cx="206.99" cy="70.27" r="1.5"/>
<circle cx="207.20" cy="70.31" r="1.5"/>
<circle cx="207.42" cy="70.36" r="1.5"/>
<circle cx="207.63" cy="70.40" r="1.5"/>
<circle cx="207.85" cy="70.44" r="1.5"/>
<circle cx="208.06" cy="70.49" r="1.5"/>
<circle cx="208.28" cy="70.53" r="1.5"/>
<circle cx="208.49" cy="70.58" r="1.5"/>
<circle cx="208.70" cy="70.62" r="1.5"/>
<circle cx="208.92" cy="70.67" r="1.5"/>
<circle cx="209.13" cy="70.71" r="1.5"/>
<circle cx="209.35" cy="70.75" r="1.5"/>
<circle cx="209.56" cy="70.80" r="1.5"/>
<circle cx="209.78" cy="70.84" r="1.5"/>
<circle cx="209.99" cy="70.89" r="1.5"/>
<circle cx="210.21" cy="70.93" r="1.5"/>
<circle cx="210.42" cy="70.98" r="1.5"/>
<circle cx="210.85" cy="71.23" r="1.5"/>
<circle cx="211.07" cy="71.45" r="1.5"/>
<circle cx="211.28" cy="71.66" r="1.5"/>
<circle cx="211.50" cy="71.87" r="1.5"/>
<circle cx="211.71" cy="72.08" r="1.5"/>
<circle cx="211.93" cy="72.30" r="1.5"/>
<circle cx="212.14" cy="72.51" r="1.5"/>
<circle cx="212.35" cy="72.72" r="1.5"/>
<circle cx="212.57" cy="72.93" r="1.5"/>
<circle cx="212.78" cy="73.15" r="1.5"/>
<circle cx="213.00" cy="73.36" r="1.5"/>
<circle cx="213.21" cy="73.57" r="1.5"/>
<circle cx="213.43" cy="73.78" r="1.5"/>
<circle cx="213.86" cy="74.24" r="1.5"/>
<circle cx="214.07" cy="74.49" r="1.5"/>
<circle cx="214.29" cy="74.74" r="1.5"/>
<circle cx="214.50" cy="74.99" r="1.5"/>
<circle cx="214.72" cy="75.24" r="1.5"/>
<circle cx="214.93" cy="75.48" r="1.5"/>
<circle cx="215.15" cy="75.73" r="1.5"/>
<circle cx="215.36" cy="75.98" r="1.5"/>
<circle cx="215.58" cy="76.23" r="1.5"/>
<circle cx="215.79" cy="76.60" r="1.5"/>
<circle cx="216.00" cy="76.97" r="1.5"/>
<circle cx="216.22" cy="77.34" r="1.5"/>
<circle cx="216.43" cy="77.72" r="1.5"/>
<circle cx="216.65" cy="78.09" r="1.5"/>
<circle cx="217.08" cy="80.13" r="1.5"/>
<circle cx="217.29" cy="81.81" r="1.5"/>
<circle cx="217.51" cy="83.48" r="1.5"/>
<circle cx="217.72" cy="84.69" r="1.5"/>
<circle cx="217.94" cy="85.90" r="1.5"/>
<circle cx="218.15" cy="86.35" r="1.5"/>
<circle cx="218.37" cy="86.79" r="1.5"/>
<circle cx="218.58" cy="87.24" r="1.5"/>
<circle cx="218.80" cy="87.69" r="1.5"/>
<circle cx="219.01" cy="88.13" r="1.5"/>
<circle cx="219.23" cy="90.55" r="1.5"/>
<circle cx="219.44" cy="92.97" r="1.5"/>
<circle cx="210.64" cy="71.02" r="2.3" fill="#dcd8e2" stroke="#4f9ee0" stroke-width="1.35"/>
<circle cx="213.64" cy="74.00" r="2.3" fill="#dcd8e2" stroke="#2f62ad" stroke-width="1.35"/>
<circle cx="216.86" cy="78.46" r="2.3" fill="#dcd8e2" stroke="#23418c" stroke-width="1.35"/>
</g>
<text x="62.30" y="44.90" font-size="5.3" fill="#c0325c" textLength="34.40" lengthAdjust="spacingAndGlyphs" stroke="#c0325c" stroke-width="0.12">VPS35 sgRNA</text>
<text x="69.00" y="57.70" font-size="5.3" fill="#e9a43c" textLength="37.50" lengthAdjust="spacingAndGlyphs" stroke="#e9a43c" stroke-width="0.12">ZNF236 sgRNA</text>
<text x="195.30" y="59.90" font-size="5.3" fill="#6aaee6" textLength="35.30" lengthAdjust="spacingAndGlyphs" stroke="#6aaee6" stroke-width="0.12">NFKB2 sgRNA</text>
<text x="168.50" y="81.10" font-size="5.3" fill="#23418c" textLength="24.60" lengthAdjust="spacingAndGlyphs" stroke="#23418c" stroke-width="0.12">RIC1 sgRNA</text>
<text x="6.90" y="159.40" font-size="11.4" fill="#000" font-weight="bold" stroke="#000" stroke-width="0.3">B</text>
<text x="144.30" y="156.00" font-size="7.8" fill="#000" text-anchor="middle" textLength="21.81" lengthAdjust="spacingAndGlyphs">MM1S</text>
<text x="144.30" y="164.40" font-size="7.2" fill="#000" text-anchor="middle" textLength="71.90" lengthAdjust="spacingAndGlyphs">bortezomib continuous</text>
<text x="21.10" y="209.20" font-size="6.4" fill="#000" text-anchor="middle" textLength="58.80" lengthAdjust="spacingAndGlyphs" transform="rotate(-90 21.10 209.20)" stroke="#000" stroke-width="0.3">Z-score sgRNA read count</text>
<text x="31.80" y="209.20" font-size="6.4" fill="#000" text-anchor="middle" textLength="24.60" lengthAdjust="spacingAndGlyphs" transform="rotate(-90 31.80 209.20)" stroke="#000" stroke-width="0.3">Bor/DMSO</text>
<line x1="52.30" y1="206.50" x2="229.10" y2="206.50" stroke="#444" stroke-width="0.9" stroke-dasharray="1.45 1.45"/>
<line x1="52.30" y1="213.50" x2="229.10" y2="213.50" stroke="#444" stroke-width="0.9" stroke-dasharray="1.45 1.45"/>
<line x1="52.30" y1="209.90" x2="229.10" y2="209.90" stroke="#c4c4c4" stroke-width="0.7" stroke-dasharray="0.8 0.7"/>
<text x="230.40" y="208.00" font-size="4.6" fill="#000" textLength="6.30" lengthAdjust="spacingAndGlyphs">SD</text>
<text x="230.40" y="211.60" font-size="4.6" fill="#000" textLength="6.50" lengthAdjust="spacingAndGlyphs">avg</text>
<text x="230.40" y="216.80" font-size="4.6" fill="#000" textLength="6.30" lengthAdjust="spacingAndGlyphs">SD</text>
<path d="M51.70 169.40V253.50H230.40" fill="none" stroke="#000" stroke-width="1.15"/>
<line x1="49.10" y1="172.50" x2="51.70" y2="172.50" stroke="#000" stroke-width="0.9"/>
<text x="46.10" y="174.45" font-size="5.5" fill="#000" text-anchor="end">10</text>
<line x1="49.10" y1="191.10" x2="51.70" y2="191.10" stroke="#000" stroke-width="0.9"/>
<text x="46.10" y="193.05" font-size="5.5" fill="#000" text-anchor="end">5</text>
<line x1="49.10" y1="209.70" x2="51.70" y2="209.70" stroke="#000" stroke-width="0.9"/>
<line x1="49.10" y1="228.30" x2="51.70" y2="228.30" stroke="#000" stroke-width="0.9"/>
<text x="46.10" y="230.25" font-size="5.5" fill="#000" text-anchor="end">-5</text>
<line x1="49.10" y1="246.90" x2="51.70" y2="246.90" stroke="#000" stroke-width="0.9"/>
<text x="46.10" y="248.85" font-size="5.5" fill="#000" text-anchor="end">-10</text>
<line x1="79.67" y1="253.50" x2="79.67" y2="256.30" stroke="#000" stroke-width="0.9"/>
<text x="79.67" y="265.10" font-size="5.3" fill="#000" text-anchor="middle" textLength="8.60" lengthAdjust="spacingAndGlyphs">100</text>
<line x1="101.14" y1="253.50" x2="101.14" y2="256.30" stroke="#000" stroke-width="0.9"/>
<text x="101.14" y="265.10" font-size="5.3" fill="#000" text-anchor="middle" textLength="8.60" lengthAdjust="spacingAndGlyphs">200</text>
<line x1="122.61" y1="253.50" x2="122.61" y2="256.30" stroke="#000" stroke-width="0.9"/>
<text x="122.61" y="265.10" font-size="5.3" fill="#000" text-anchor="middle" textLength="8.60" lengthAdjust="spacingAndGlyphs">300</text>
<line x1="144.08" y1="253.50" x2="144.08" y2="256.30" stroke="#000" stroke-width="0.9"/>
<text x="144.08" y="265.10" font-size="5.3" fill="#000" text-anchor="middle" textLength="8.60" lengthAdjust="spacingAndGlyphs">400</text>
<line x1="165.55" y1="253.50" x2="165.55" y2="256.30" stroke="#000" stroke-width="0.9"/>
<text x="165.55" y="265.10" font-size="5.3" fill="#000" text-anchor="middle" textLength="8.60" lengthAdjust="spacingAndGlyphs">500</text>
<line x1="187.02" y1="253.50" x2="187.02" y2="256.30" stroke="#000" stroke-width="0.9"/>
<text x="187.02" y="265.10" font-size="5.3" fill="#000" text-anchor="middle" textLength="8.60" lengthAdjust="spacingAndGlyphs">600</text>
<line x1="208.49" y1="253.50" x2="208.49" y2="256.30" stroke="#000" stroke-width="0.9"/>
<text x="208.49" y="265.10" font-size="5.3" fill="#000" text-anchor="middle" textLength="8.60" lengthAdjust="spacingAndGlyphs">700</text>
<text x="144.00" y="274.80" font-size="7.0" fill="#000" text-anchor="middle" textLength="31.00" lengthAdjust="spacingAndGlyphs" stroke="#000" stroke-width="0.25">sgRNA library</text>
<g fill="#cfcfd3" stroke="#c3c3c8" stroke-width="0.65">
<circle cx="58.20" cy="195.71" r="1.5"/>
<circle cx="58.25" cy="196.23" r="1.5"/>
<circle cx="58.31" cy="196.75" r="1.5"/>
<circle cx="58.36" cy="197.28" r="1.5"/>
<circle cx="58.41" cy="197.80" r="1.5"/>
<circle cx="58.46" cy="198.39" r="1.5"/>
<circle cx="58.50" cy="198.99" r="1.5"/>
<circle cx="58.54" cy="199.58" r="1.5"/>
<circle cx="58.59" cy="200.18" r="1.5"/>
<circle cx="58.63" cy="200.77" r="1.5"/>
<circle cx="58.84" cy="201.52" r="1.5"/>
<circle cx="59.06" cy="202.26" r="1.5"/>
<circle cx="59.27" cy="202.46" r="1.5"/>
<circle cx="59.49" cy="202.67" r="1.5"/>
<circle cx="59.70" cy="202.87" r="1.5"/>
<circle cx="59.92" cy="203.08" r="1.5"/>
<circle cx="60.13" cy="203.15" r="1.5"/>
<circle cx="60.35" cy="203.23" r="1.5"/>
<circle cx="60.56" cy="203.30" r="1.5"/>
<circle cx="60.78" cy="203.38" r="1.5"/>
<circle cx="60.99" cy="203.45" r="1.5"/>
<circle cx="61.21" cy="203.52" r="1.5"/>
<circle cx="61.42" cy="203.60" r="1.5"/>
<circle cx="61.64" cy="203.67" r="1.5"/>
<circle cx="61.85" cy="203.75" r="1.5"/>
<circle cx="62.06" cy="203.82" r="1.5"/>
<circle cx="62.28" cy="203.90" r="1.5"/>
<circle cx="62.49" cy="203.97" r="1.5"/>
<circle cx="62.71" cy="204.05" r="1.5"/>
<circle cx="62.92" cy="204.12" r="1.5"/>
<circle cx="63.14" cy="204.19" r="1.5"/>
<circle cx="63.35" cy="204.27" r="1.5"/>
<circle cx="63.57" cy="204.34" r="1.5"/>
<circle cx="63.78" cy="204.42" r="1.5"/>
<circle cx="64.00" cy="204.49" r="1.5"/>
<circle cx="64.21" cy="204.57" r="1.5"/>
<circle cx="64.43" cy="204.66" r="1.5"/>
<circle cx="64.64" cy="204.75" r="1.5"/>
<circle cx="64.86" cy="204.85" r="1.5"/>
<circle cx="65.07" cy="204.94" r="1.5"/>
<circle cx="65.29" cy="205.03" r="1.5"/>
<circle cx="65.50" cy="205.12" r="1.5"/>
<circle cx="65.71" cy="205.22" r="1.5"/>
<circle cx="65.93" cy="205.31" r="1.5"/>
<circle cx="66.14" cy="205.37" r="1.5"/>
<circle cx="66.36" cy="205.43" r="1.5"/>
<circle cx="66.57" cy="205.49" r="1.5"/>
<circle cx="66.79" cy="205.55" r="1.5"/>
<circle cx="67.00" cy="205.62" r="1.5"/>
<circle cx="67.22" cy="205.68" r="1.5"/>
<circle cx="67.43" cy="205.74" r="1.5"/>
<circle cx="67.65" cy="205.80" r="1.5"/>
<circle cx="67.86" cy="205.86" r="1.5"/>
<circle cx="68.08" cy="205.92" r="1.5"/>
<circle cx="68.29" cy="205.98" r="1.5"/>
<circle cx="68.51" cy="206.04" r="1.5"/>
<circle cx="68.72" cy="206.10" r="1.5"/>
<circle cx="68.94" cy="206.17" r="1.5"/>
<circle cx="69.15" cy="206.21" r="1.5"/>
<circle cx="69.36" cy="206.25" r="1.5"/>
<circle cx="69.58" cy="206.30" r="1.5"/>
<circle cx="69.79" cy="206.34" r="1.5"/>
<circle cx="70.01" cy="206.38" r="1.5"/>
<circle cx="70.22" cy="206.42" r="1.5"/>
<circle cx="70.44" cy="206.47" r="1.5"/>
<circle cx="70.65" cy="206.51" r="1.5"/>
<circle cx="70.87" cy="206.55" r="1.5"/>
<circle cx="71.08" cy="206.60" r="1.5"/>
<circle cx="71.30" cy="206.64" r="1.5"/>
<circle cx="71.51" cy="206.68" r="1.5"/>
<circle cx="71.73" cy="206.73" r="1.5"/>
<circle cx="71.94" cy="206.77" r="1.5"/>
<circle cx="72.16" cy="206.81" r="1.5"/>
<circle cx="72.37" cy="206.86" r="1.5"/>
<circle cx="72.58" cy="206.90" r="1.5"/>
<circle cx="72.80" cy="206.94" r="1.5"/>
<circle cx="73.01" cy="206.98" r="2.3" fill="#dcd8e2" stroke="#62ae3c" stroke-width="1.35"/>
<circle cx="73.23" cy="207.01" r="1.5"/>
<circle cx="73.44" cy="207.03" r="1.5"/>
<circle cx="73.66" cy="207.05" r="1.5"/>
<circle cx="73.87" cy="207.07" r="1.5"/>
<circle cx="74.09" cy="207.09" r="1.5"/>
<circle cx="74.30" cy="207.12" r="1.5"/>
<circle cx="74.52" cy="207.14" r="1.5"/>
<circle cx="74.73" cy="207.16" r="1.5"/>
<circle cx="74.95" cy="207.18" r="1.5"/>
<circle cx="75.16" cy="207.20" r="1.5"/>
<circle cx="75.38" cy="207.23" r="1.5"/>
<circle cx="75.59" cy="207.25" r="1.5"/>
<circle cx="75.81" cy="207.27" r="1.5"/>
<circle cx="76.02" cy="207.29" r="1.5"/>
<circle cx="76.23" cy="207.31" r="1.5"/>
<circle cx="76.45" cy="207.34" r="1.5"/>
<circle cx="76.66" cy="207.36" r="1.5"/>
<circle cx="76.88" cy="207.38" r="1.5"/>
<circle cx="77.09" cy="207.40" r="1.5"/>
<circle cx="77.31" cy="207.42" r="1.5"/>
<circle cx="77.52" cy="207.44" r="1.5"/>
<circle cx="77.74" cy="207.47" r="1.5"/>
<circle cx="77.95" cy="207.49" r="1.5"/>
<circle cx="78.17" cy="207.51" r="1.5"/>
<circle cx="78.38" cy="207.53" r="1.5"/>
<circle cx="78.60" cy="207.55" r="1.5"/>
<circle cx="78.81" cy="207.58" r="1.5"/>
<circle cx="79.03" cy="207.60" r="1.5"/>
<circle cx="79.24" cy="207.62" r="1.5"/>
<circle cx="79.46" cy="207.64" r="1.5"/>
<circle cx="79.67" cy="207.66" r="1.5"/>
<circle cx="79.88" cy="207.69" r="1.5"/>
<circle cx="80.10" cy="207.71" r="1.5"/>
<circle cx="80.31" cy="207.73" r="1.5"/>
<circle cx="80.53" cy="207.75" r="1.5"/>
<circle cx="80.74" cy="207.77" r="1.5"/>
<circle cx="80.96" cy="207.80" r="1.5"/>
<circle cx="81.17" cy="207.82" r="1.5"/>
<circle cx="81.39" cy="207.84" r="1.5"/>
<circle cx="81.60" cy="207.86" r="1.5"/>
<circle cx="81.82" cy="207.88" r="1.5"/>
<circle cx="82.03" cy="207.91" r="1.5"/>
<circle cx="82.25" cy="207.93" r="1.5"/>
<circle cx="82.46" cy="207.95" r="1.5"/>
<circle cx="82.68" cy="207.97" r="1.5"/>
<circle cx="82.89" cy="207.99" r="1.5"/>
<circle cx="83.11" cy="208.01" r="1.5"/>
<circle cx="83.32" cy="208.04" r="1.5"/>
<circle cx="83.53" cy="208.06" r="1.5"/>
<circle cx="83.75" cy="208.08" r="1.5"/>
<circle cx="83.96" cy="208.10" r="1.5"/>
<circle cx="84.18" cy="208.12" r="1.5"/>
<circle cx="84.39" cy="208.15" r="1.5"/>
<circle cx="84.61" cy="208.17" r="1.5"/>
<circle cx="84.82" cy="208.19" r="1.5"/>
<circle cx="85.04" cy="208.21" r="2.3" fill="#dcd8e2" stroke="#1e6643" stroke-width="1.35"/>
<circle cx="85.25" cy="208.22" r="1.5"/>
<circle cx="85.47" cy="208.23" r="1.5"/>
<circle cx="85.68" cy="208.24" r="1.5"/>
<circle cx="85.90" cy="208.25" r="1.5"/>
<circle cx="86.11" cy="208.26" r="1.5"/>
<circle cx="86.33" cy="208.26" r="1.5"/>
<circle cx="86.54" cy="208.27" r="1.5"/>
<circle cx="86.76" cy="208.28" r="1.5"/>
<circle cx="86.97" cy="208.29" r="1.5"/>
<circle cx="87.18" cy="208.30" r="1.5"/>
<circle cx="87.40" cy="208.31" r="1.5"/>
<circle cx="87.61" cy="208.32" r="1.5"/>
<circle cx="87.83" cy="208.33" r="1.5"/>
<circle cx="88.04" cy="208.33" r="1.5"/>
<circle cx="88.26" cy="208.34" r="1.5"/>
<circle cx="88.47" cy="208.35" r="1.5"/>
<circle cx="88.69" cy="208.36" r="1.5"/>
<circle cx="88.90" cy="208.37" r="1.5"/>
<circle cx="89.12" cy="208.38" r="1.5"/>
<circle cx="89.33" cy="208.39" r="1.5"/>
<circle cx="89.55" cy="208.40" r="1.5"/>
<circle cx="89.76" cy="208.40" r="1.5"/>
<circle cx="89.98" cy="208.41" r="1.5"/>
<circle cx="90.19" cy="208.42" r="1.5"/>
<circle cx="90.41" cy="208.43" r="1.5"/>
<circle cx="90.62" cy="208.44" r="1.5"/>
<circle cx="90.83" cy="208.45" r="1.5"/>
<circle cx="91.05" cy="208.46" r="1.5"/>
<circle cx="91.26" cy="208.47" r="1.5"/>
<circle cx="91.48" cy="208.47" r="1.5"/>
<circle cx="91.69" cy="208.48" r="1.5"/>
<circle cx="91.91" cy="208.49" r="1.5"/>
<circle cx="92.12" cy="208.50" r="1.5"/>
<circle cx="92.34" cy="208.51" r="1.5"/>
<circle cx="92.55" cy="208.52" r="1.5"/>
<circle cx="92.77" cy="208.53" r="1.5"/>
<circle cx="92.98" cy="208.54" r="1.5"/>
<circle cx="93.20" cy="208.54" r="1.5"/>
<circle cx="93.41" cy="208.55" r="1.5"/>
<circle cx="93.63" cy="208.56" r="1.5"/>
<circle cx="93.84" cy="208.57" r="1.5"/>
<circle cx="94.05" cy="208.58" r="1.5"/>
<circle cx="94.27" cy="208.59" r="1.5"/>
<circle cx="94.48" cy="208.60" r="1.5"/>
<circle cx="94.70" cy="208.61" r="1.5"/>
<circle cx="94.91" cy="208.61" r="1.5"/>
<circle cx="95.13" cy="208.62" r="1.5"/>
<circle cx="95.34" cy="208.63" r="1.5"/>
<circle cx="95.56" cy="208.64" r="1.5"/>
<circle cx="95.77" cy="208.65" r="1.5"/>
<circle cx="95.99" cy="208.66" r="1.5"/>
<circle cx="96.20" cy="208.67" r="1.5"/>
<circle cx="96.42" cy="208.67" r="1.5"/>
<circle cx="96.63" cy="208.68" r="1.5"/>
<circle cx="96.85" cy="208.69" r="1.5"/>
<circle cx="97.06" cy="208.70" r="1.5"/>
<circle cx="97.28" cy="208.71" r="1.5"/>
<circle cx="97.49" cy="208.72" r="1.5"/>
<circle cx="97.70" cy="208.73" r="1.5"/>
<circle cx="97.92" cy="208.74" r="1.5"/>
<circle cx="98.13" cy="208.74" r="1.5"/>
<circle cx="98.35" cy="208.75" r="1.5"/>
<circle cx="98.56" cy="208.76" r="1.5"/>
<circle cx="98.78" cy="208.77" r="1.5"/>
<circle cx="98.99" cy="208.78" r="1.5"/>
<circle cx="99.21" cy="208.79" r="1.5"/>
<circle cx="99.42" cy="208.80" r="1.5"/>
<circle cx="99.64" cy="208.81" r="1.5"/>
<circle cx="99.85" cy="208.81" r="1.5"/>
<circle cx="100.07" cy="208.82" r="1.5"/>
<circle cx="100.28" cy="208.83" r="1.5"/>
<circle cx="100.50" cy="208.84" r="1.5"/>
<circle cx="100.71" cy="208.85" r="1.5"/>
<circle cx="100.93" cy="208.86" r="1.5"/>
<circle cx="101.14" cy="208.87" r="1.5"/>
<circle cx="101.35" cy="208.88" r="1.5"/>
<circle cx="101.57" cy="208.88" r="1.5"/>
<circle cx="101.78" cy="208.89" r="1.5"/>
<circle cx="102.00" cy="208.90" r="1.5"/>
<circle cx="102.21" cy="208.91" r="1.5"/>
<circle cx="102.43" cy="208.92" r="1.5"/>
<circle cx="102.64" cy="208.93" r="1.5"/>
<circle cx="102.86" cy="208.94" r="1.5"/>
<circle cx="103.07" cy="208.95" r="1.5"/>
<circle cx="103.29" cy="208.95" r="1.5"/>
<circle cx="103.50" cy="208.96" r="1.5"/>
<circle cx="103.72" cy="208.97" r="1.5"/>
<circle cx="103.93" cy="208.98" r="1.5"/>
<circle cx="104.15" cy="208.99" r="1.5"/>
<circle cx="104.36" cy="209.00" r="1.5"/>
<circle cx="104.58" cy="209.01" r="1.5"/>
<circle cx="104.79" cy="209.02" r="1.5"/>
<circle cx="105.00" cy="209.02" r="1.5"/>
<circle cx="105.22" cy="209.03" r="1.5"/>
<circle cx="105.43" cy="209.04" r="1.5"/>
<circle cx="105.65" cy="209.05" r="1.5"/>
<circle cx="105.86" cy="209.06" r="1.5"/>
<circle cx="106.08" cy="209.07" r="1.5"/>
<circle cx="106.29" cy="209.08" r="1.5"/>
<circle cx="106.51" cy="209.09" r="1.5"/>
<circle cx="106.72" cy="209.09" r="1.5"/>
<circle cx="106.94" cy="209.10" r="1.5"/>
<circle cx="107.15" cy="209.11" r="1.5"/>
<circle cx="107.37" cy="209.12" r="1.5"/>
<circle cx="107.58" cy="209.13" r="1.5"/>
<circle cx="107.80" cy="209.14" r="1.5"/>
<circle cx="108.01" cy="209.15" r="1.5"/>
<circle cx="108.23" cy="209.16" r="1.5"/>
<circle cx="108.44" cy="209.16" r="1.5"/>
<circle cx="108.65" cy="209.17" r="1.5"/>
<circle cx="108.87" cy="209.18" r="1.5"/>
<circle cx="109.08" cy="209.19" r="1.5"/>
<circle cx="109.30" cy="209.20" r="1.5"/>
<circle cx="109.51" cy="209.21" r="1.5"/>
<circle cx="109.73" cy="209.22" r="2.3" fill="#dcd8e2" stroke="#1e6643" stroke-width="1.35"/>
<circle cx="109.94" cy="209.22" r="1.5"/>
<circle cx="110.16" cy="209.23" r="1.5"/>
<circle cx="110.37" cy="209.23" r="1.5"/>
<circle cx="110.59" cy="209.24" r="1.5"/>
<circle cx="110.80" cy="209.24" r="1.5"/>
<circle cx="111.02" cy="209.25" r="1.5"/>
<circle cx="111.23" cy="209.25" r="1.5"/>
<circle cx="111.45" cy="209.25" r="1.5"/>
<circle cx="111.66" cy="209.26" r="1.5"/>
<circle cx="111.88" cy="209.26" r="1.5"/>
<circle cx="112.09" cy="209.27" r="1.5"/>
<circle cx="112.30" cy="209.27" r="1.5"/>
<circle cx="112.52" cy="209.28" r="1.5"/>
<circle cx="112.73" cy="209.28" r="1.5"/>
<circle cx="112.95" cy="209.29" r="1.5"/>
<circle cx="113.16" cy="209.29" r="1.5"/>
<circle cx="113.38" cy="209.30" r="1.5"/>
<circle cx="113.59" cy="209.30" r="1.5"/>
<circle cx="113.81" cy="209.31" r="1.5"/>
<circle cx="114.02" cy="209.31" r="1.5"/>
<circle cx="114.24" cy="209.32" r="1.5"/>
<circle cx="114.45" cy="209.32" r="1.5"/>
<circle cx="114.67" cy="209.33" r="1.5"/>
<circle cx="114.88" cy="209.33" r="1.5"/>
<circle cx="115.10" cy="209.34" r="1.5"/>
<circle cx="115.31" cy="209.34" r="1.5"/>
<circle cx="115.52" cy="209.35" r="1.5"/>
<circle cx="115.74" cy="209.35" r="1.5"/>
<circle cx="115.95" cy="209.36" r="1.5"/>
<circle cx="116.17" cy="209.36" r="1.5"/>
<circle cx="116.38" cy="209.36" r="1.5"/>
<circle cx="116.60" cy="209.37" r="1.5"/>
<circle cx="116.81" cy="209.37" r="1.5"/>
<circle cx="117.03" cy="209.38" r="1.5"/>
<circle cx="117.24" cy="209.38" r="1.5"/>
<circle cx="117.46" cy="209.39" r="1.5"/>
<circle cx="117.67" cy="209.39" r="1.5"/>
<circle cx="117.89" cy="209.40" r="1.5"/>
<circle cx="118.10" cy="209.40" r="1.5"/>
<circle cx="118.32" cy="209.41" r="1.5"/>
<circle cx="118.53" cy="209.41" r="1.5"/>
<circle cx="118.75" cy="209.42" r="1.5"/>
<circle cx="118.96" cy="209.42" r="1.5"/>
<circle cx="119.17" cy="209.43" r="1.5"/>
<circle cx="119.39" cy="209.43" r="1.5"/>
<circle cx="119.60" cy="209.44" r="1.5"/>
<circle cx="119.82" cy="209.44" r="1.5"/>
<circle cx="120.03" cy="209.45" r="1.5"/>
<circle cx="120.25" cy="209.45" r="1.5"/>
<circle cx="120.46" cy="209.46" r="1.5"/>
<circle cx="120.68" cy="209.46" r="1.5"/>
<circle cx="120.89" cy="209.47" r="1.5"/>
<circle cx="121.11" cy="209.47" r="1.5"/>
<circle cx="121.32" cy="209.47" r="1.5"/>
<circle cx="121.54" cy="209.48" r="1.5"/>
<circle cx="121.75" cy="209.48" r="1.5"/>
<circle cx="121.97" cy="209.49" r="1.5"/>
<circle cx="122.18" cy="209.49" r="1.5"/>
<circle cx="122.40" cy="209.50" r="1.5"/>
<circle cx="122.61" cy="209.50" r="1.5"/>
<circle cx="122.82" cy="209.51" r="1.5"/>
<circle cx="123.04" cy="209.51" r="1.5"/>
<circle cx="123.25" cy="209.52" r="1.5"/>
<circle cx="123.47" cy="209.52" r="1.5"/>
<circle cx="123.68" cy="209.53" r="1.5"/>
<circle cx="123.90" cy="209.53" r="1.5"/>
<circle cx="124.11" cy="209.54" r="1.5"/>
<circle cx="124.33" cy="209.54" r="1.5"/>
<circle cx="124.54" cy="209.55" r="1.5"/>
<circle cx="124.76" cy="209.55" r="1.5"/>
<circle cx="124.97" cy="209.56" r="1.5"/>
<circle cx="125.19" cy="209.56" r="1.5"/>
<circle cx="125.40" cy="209.57" r="1.5"/>
<circle cx="125.62" cy="209.57" r="1.5"/>
<circle cx="125.83" cy="209.58" r="1.5"/>
<circle cx="126.05" cy="209.58" r="1.5"/>
<circle cx="126.26" cy="209.58" r="1.5"/>
<circle cx="126.47" cy="209.59" r="1.5"/>
<circle cx="126.69" cy="209.59" r="1.5"/>
<circle cx="126.90" cy="209.60" r="1.5"/>
<circle cx="127.12" cy="209.60" r="1.5"/>
<circle cx="127.33" cy="209.61" r="1.5"/>
<circle cx="127.55" cy="209.61" r="1.5"/>
<circle cx="127.76" cy="209.62" r="1.5"/>
<circle cx="127.98" cy="209.62" r="1.5"/>
<circle cx="128.19" cy="209.63" r="1.5"/>
<circle cx="128.41" cy="209.63" r="1.5"/>
<circle cx="128.62" cy="209.64" r="1.5"/>
<circle cx="128.84" cy="209.64" r="1.5"/>
<circle cx="129.05" cy="209.65" r="1.5"/>
<circle cx="129.27" cy="209.65" r="1.5"/>
<circle cx="129.48" cy="209.66" r="1.5"/>
<circle cx="129.70" cy="209.66" r="1.5"/>
<circle cx="129.91" cy="209.67" r="1.5"/>
<circle cx="130.12" cy="209.67" r="1.5"/>
<circle cx="130.34" cy="209.68" r="1.5"/>
<circle cx="130.55" cy="209.68" r="1.5"/>
<circle cx="130.77" cy="209.69" r="1.5"/>
<circle cx="130.98" cy="209.69" r="1.5"/>
<circle cx="131.20" cy="209.69" r="1.5"/>
<circle cx="131.41" cy="209.70" r="1.5"/>
<circle cx="131.63" cy="209.70" r="1.5"/>
<circle cx="131.84" cy="209.71" r="1.5"/>
<circle cx="132.06" cy="209.71" r="1.5"/>
<circle cx="132.27" cy="209.72" r="1.5"/>
<circle cx="132.49" cy="209.72" r="1.5"/>
<circle cx="132.70" cy="209.73" r="1.5"/>
<circle cx="132.92" cy="209.73" r="1.5"/>
<circle cx="133.13" cy="209.74" r="1.5"/>
<circle cx="133.34" cy="209.74" r="1.5"/>
<circle cx="133.56" cy="209.75" r="1.5"/>
<circle cx="133.77" cy="209.75" r="1.5"/>
<circle cx="133.99" cy="209.76" r="1.5"/>
<circle cx="134.20" cy="209.76" r="1.5"/>
<circle cx="134.42" cy="209.77" r="1.5"/>
<circle cx="134.63" cy="209.77" r="1.5"/>
<circle cx="134.85" cy="209.78" r="1.5"/>
<circle cx="135.06" cy="209.78" r="1.5"/>
<circle cx="135.28" cy="209.79" r="1.5"/>
<circle cx="135.49" cy="209.79" r="1.5"/>
<circle cx="135.71" cy="209.80" r="1.5"/>
<circle cx="135.92" cy="209.80" r="1.5"/>
<circle cx="136.14" cy="209.80" r="1.5"/>
<circle cx="136.35" cy="209.81" r="1.5"/>
<circle cx="136.57" cy="209.81" r="1.5"/>
<circle cx="136.78" cy="209.82" r="1.5"/>
<circle cx="136.99" cy="209.82" r="1.5"/>
<circle cx="137.21" cy="209.83" r="1.5"/>
<circle cx="137.42" cy="209.83" r="1.5"/>
<circle cx="137.64" cy="209.84" r="1.5"/>
<circle cx="137.85" cy="209.84" r="1.5"/>
<circle cx="138.07" cy="209.85" r="1.5"/>
<circle cx="138.28" cy="209.85" r="1.5"/>
<circle cx="138.50" cy="209.86" r="1.5"/>
<circle cx="138.71" cy="209.86" r="1.5"/>
<circle cx="138.93" cy="209.87" r="1.5"/>
<circle cx="139.14" cy="209.87" r="1.5"/>
<circle cx="139.36" cy="209.88" r="1.5"/>
<circle cx="139.57" cy="209.88" r="1.5"/>
<circle cx="139.79" cy="209.89" r="1.5"/>
<circle cx="140.00" cy="209.89" r="1.5"/>
<circle cx="140.22" cy="209.89" r="1.5"/>
<circle cx="140.43" cy="209.90" r="1.5"/>
<circle cx="140.64" cy="209.90" r="1.5"/>
<circle cx="140.86" cy="209.91" r="1.5"/>
<circle cx="141.07" cy="209.91" r="1.5"/>
<circle cx="141.29" cy="209.92" r="1.5"/>
<circle cx="141.50" cy="209.92" r="1.5"/>
<circle cx="141.72" cy="209.93" r="1.5"/>
<circle cx="141.93" cy="209.93" r="1.5"/>
<circle cx="142.15" cy="209.93" r="1.5"/>
<circle cx="142.36" cy="209.94" r="1.5"/>
<circle cx="142.58" cy="209.94" r="1.5"/>
<circle cx="142.79" cy="209.95" r="1.5"/>
<circle cx="143.01" cy="209.95" r="1.5"/>
<circle cx="143.22" cy="209.96" r="1.5"/>
<circle cx="143.44" cy="209.96" r="1.5"/>
<circle cx="143.65" cy="209.97" r="1.5"/>
<circle cx="143.87" cy="209.97" r="1.5"/>
<circle cx="144.08" cy="209.97" r="1.5"/>
<circle cx="144.29" cy="209.98" r="1.5"/>
<circle cx="144.51" cy="209.98" r="1.5"/>
<circle cx="144.72" cy="209.99" r="1.5"/>
<circle cx="144.94" cy="209.99" r="1.5"/>
<circle cx="145.15" cy="210.00" r="1.5"/>
<circle cx="145.37" cy="210.00" r="1.5"/>
<circle cx="145.58" cy="210.01" r="1.5"/>
<circle cx="145.80" cy="210.01" r="1.5"/>
<circle cx="146.01" cy="210.01" r="1.5"/>
<circle cx="146.23" cy="210.02" r="1.5"/>
<circle cx="146.44" cy="210.02" r="1.5"/>
<circle cx="146.66" cy="210.03" r="1.5"/>
<circle cx="146.87" cy="210.03" r="1.5"/>
<circle cx="147.09" cy="210.04" r="1.5"/>
<circle cx="147.30" cy="210.04" r="1.5"/>
<circle cx="147.52" cy="210.05" r="1.5"/>
<circle cx="147.73" cy="210.05" r="1.5"/>
<circle cx="147.94" cy="210.05" r="1.5"/>
<circle cx="148.16" cy="210.06" r="1.5"/>
<circle cx="148.37" cy="210.06" r="1.5"/>
<circle cx="148.59" cy="210.07" r="1.5"/>
<circle cx="148.80" cy="210.07" r="2.3" fill="#dcd8e2" stroke="#1e6643" stroke-width="1.35"/>
<circle cx="149.02" cy="210.08" r="1.5"/>
<circle cx="149.23" cy="210.09" r="1.5"/>
<circle cx="149.45" cy="210.09" r="1.5"/>
<circle cx="149.66" cy="210.10" r="1.5"/>
<circle cx="149.88" cy="210.11" r="1.5"/>
<circle cx="150.09" cy="210.11" r="1.5"/>
<circle cx="150.31" cy="210.12" r="1.5"/>
<circle cx="150.52" cy="210.13" r="1.5"/>
<circle cx="150.74" cy="210.13" r="1.5"/>
<circle cx="150.95" cy="210.14" r="1.5"/>
<circle cx="151.17" cy="210.15" r="1.5"/>
<circle cx="151.38" cy="210.15" r="1.5"/>
<circle cx="151.59" cy="210.16" r="1.5"/>
<circle cx="151.81" cy="210.17" r="1.5"/>
<circle cx="152.02" cy="210.17" r="1.5"/>
<circle cx="152.24" cy="210.18" r="1.5"/>
<circle cx="152.45" cy="210.19" r="1.5"/>
<circle cx="152.67" cy="210.19" r="1.5"/>
<circle cx="152.88" cy="210.20" r="1.5"/>
<circle cx="153.10" cy="210.21" r="1.5"/>
<circle cx="153.31" cy="210.21" r="1.5"/>
<circle cx="153.53" cy="210.22" r="1.5"/>
<circle cx="153.74" cy="210.23" r="1.5"/>
<circle cx="153.96" cy="210.23" r="1.5"/>
<circle cx="154.17" cy="210.24" r="1.5"/>
<circle cx="154.39" cy="210.25" r="1.5"/>
<circle cx="154.60" cy="210.25" r="1.5"/>
<circle cx="154.81" cy="210.26" r="1.5"/>
<circle cx="155.03" cy="210.27" r="1.5"/>
<circle cx="155.24" cy="210.27" r="1.5"/>
<circle cx="155.46" cy="210.28" r="1.5"/>
<circle cx="155.67" cy="210.29" r="1.5"/>
<circle cx="155.89" cy="210.29" r="1.5"/>
<circle cx="156.10" cy="210.30" r="1.5"/>
<circle cx="156.32" cy="210.31" r="1.5"/>
<circle cx="156.53" cy="210.31" r="1.5"/>
<circle cx="156.75" cy="210.32" r="1.5"/>
<circle cx="156.96" cy="210.33" r="1.5"/>
<circle cx="157.18" cy="210.33" r="1.5"/>
<circle cx="157.39" cy="210.34" r="1.5"/>
<circle cx="157.61" cy="210.35" r="1.5"/>
<circle cx="157.82" cy="210.36" r="1.5"/>
<circle cx="158.04" cy="210.36" r="1.5"/>
<circle cx="158.25" cy="210.37" r="1.5"/>
<circle cx="158.46" cy="210.38" r="1.5"/>
<circle cx="158.68" cy="210.38" r="1.5"/>
<circle cx="158.89" cy="210.39" r="1.5"/>
<circle cx="159.11" cy="210.40" r="1.5"/>
<circle cx="159.32" cy="210.40" r="1.5"/>
<circle cx="159.54" cy="210.41" r="1.5"/>
<circle cx="159.75" cy="210.42" r="1.5"/>
<circle cx="159.97" cy="210.42" r="1.5"/>
<circle cx="160.18" cy="210.43" r="1.5"/>
<circle cx="160.40" cy="210.44" r="1.5"/>
<circle cx="160.61" cy="210.44" r="1.5"/>
<circle cx="160.83" cy="210.45" r="1.5"/>
<circle cx="161.04" cy="210.46" r="1.5"/>
<circle cx="161.26" cy="210.46" r="1.5"/>
<circle cx="161.47" cy="210.47" r="1.5"/>
<circle cx="161.69" cy="210.48" r="1.5"/>
<circle cx="161.90" cy="210.48" r="1.5"/>
<circle cx="162.11" cy="210.49" r="1.5"/>
<circle cx="162.33" cy="210.50" r="1.5"/>
<circle cx="162.54" cy="210.50" r="1.5"/>
<circle cx="162.76" cy="210.51" r="1.5"/>
<circle cx="162.97" cy="210.52" r="1.5"/>
<circle cx="163.19" cy="210.52" r="1.5"/>
<circle cx="163.40" cy="210.53" r="1.5"/>
<circle cx="163.62" cy="210.54" r="1.5"/>
<circle cx="163.83" cy="210.54" r="1.5"/>
<circle cx="164.05" cy="210.55" r="1.5"/>
<circle cx="164.26" cy="210.56" r="1.5"/>
<circle cx="164.48" cy="210.56" r="1.5"/>
<circle cx="164.69" cy="210.57" r="1.5"/>
<circle cx="164.91" cy="210.58" r="1.5"/>
<circle cx="165.12" cy="210.58" r="1.5"/>
<circle cx="165.34" cy="210.59" r="1.5"/>
<circle cx="165.55" cy="210.60" r="1.5"/>
<circle cx="165.76" cy="210.60" r="1.5"/>
<circle cx="165.98" cy="210.61" r="1.5"/>
<circle cx="166.19" cy="210.62" r="1.5"/>
<circle cx="166.41" cy="210.62" r="1.5"/>
<circle cx="166.62" cy="210.63" r="1.5"/>
<circle cx="166.84" cy="210.64" r="1.5"/>
<circle cx="167.05" cy="210.64" r="1.5"/>
<circle cx="167.27" cy="210.65" r="1.5"/>
<circle cx="167.48" cy="210.66" r="1.5"/>
<circle cx="167.70" cy="210.67" r="1.5"/>
<circle cx="167.91" cy="210.67" r="1.5"/>
<circle cx="168.13" cy="210.68" r="1.5"/>
<circle cx="168.34" cy="210.69" r="1.5"/>
<circle cx="168.56" cy="210.69" r="1.5"/>
<circle cx="168.77" cy="210.70" r="1.5"/>
<circle cx="168.99" cy="210.71" r="1.5"/>
<circle cx="169.20" cy="210.71" r="1.5"/>
<circle cx="169.41" cy="210.72" r="1.5"/>
<circle cx="169.63" cy="210.73" r="1.5"/>
<circle cx="169.84" cy="210.73" r="1.5"/>
<circle cx="170.06" cy="210.74" r="1.5"/>
<circle cx="170.27" cy="210.75" r="1.5"/>
<circle cx="170.49" cy="210.75" r="1.5"/>
<circle cx="170.70" cy="210.76" r="1.5"/>
<circle cx="170.92" cy="210.77" r="1.5"/>
<circle cx="171.13" cy="210.77" r="1.5"/>
<circle cx="171.35" cy="210.78" r="1.5"/>
<circle cx="171.56" cy="210.79" r="1.5"/>
<circle cx="171.78" cy="210.79" r="1.5"/>
<circle cx="171.99" cy="210.80" r="1.5"/>
<circle cx="172.21" cy="210.81" r="1.5"/>
<circle cx="172.42" cy="210.81" r="1.5"/>
<circle cx="172.64" cy="210.82" r="1.5"/>
<circle cx="172.85" cy="210.83" r="1.5"/>
<circle cx="173.06" cy="210.83" r="1.5"/>
<circle cx="173.28" cy="210.84" r="1.5"/>
<circle cx="173.49" cy="210.85" r="1.5"/>
<circle cx="173.71" cy="210.85" r="1.5"/>
<circle cx="173.92" cy="210.86" r="1.5"/>
<circle cx="174.14" cy="210.87" r="1.5"/>
<circle cx="174.35" cy="210.87" r="1.5"/>
<circle cx="174.57" cy="210.88" r="1.5"/>
<circle cx="174.78" cy="210.89" r="1.5"/>
<circle cx="175.00" cy="210.89" r="1.5"/>
<circle cx="175.21" cy="210.90" r="1.5"/>
<circle cx="175.43" cy="210.91" r="1.5"/>
<circle cx="175.64" cy="210.91" r="1.5"/>
<circle cx="175.86" cy="210.92" r="1.5"/>
<circle cx="176.07" cy="210.93" r="1.5"/>
<circle cx="176.29" cy="210.93" r="1.5"/>
<circle cx="176.50" cy="210.94" r="1.5"/>
<circle cx="176.71" cy="210.95" r="1.5"/>
<circle cx="176.93" cy="210.95" r="1.5"/>
<circle cx="177.14" cy="210.96" r="1.5"/>
<circle cx="177.36" cy="210.97" r="1.5"/>
<circle cx="177.57" cy="210.98" r="1.5"/>
<circle cx="177.79" cy="210.98" r="1.5"/>
<circle cx="178.00" cy="210.99" r="1.5"/>
<circle cx="178.22" cy="211.00" r="1.5"/>
<circle cx="178.43" cy="211.00" r="1.5"/>
<circle cx="178.65" cy="211.02" r="1.5"/>
<circle cx="178.86" cy="211.03" r="1.5"/>
<circle cx="179.08" cy="211.04" r="1.5"/>
<circle cx="179.29" cy="211.06" r="1.5"/>
<circle cx="179.51" cy="211.07" r="1.5"/>
<circle cx="179.72" cy="211.08" r="1.5"/>
<circle cx="179.93" cy="211.09" r="1.5"/>
<circle cx="180.15" cy="211.11" r="1.5"/>
<circle cx="180.36" cy="211.12" r="1.5"/>
<circle cx="180.58" cy="211.13" r="1.5"/>
<circle cx="180.79" cy="211.15" r="1.5"/>
<circle cx="181.01" cy="211.16" r="1.5"/>
<circle cx="181.22" cy="211.17" r="1.5"/>
<circle cx="181.44" cy="211.19" r="1.5"/>
<circle cx="181.65" cy="211.20" r="1.5"/>
<circle cx="181.87" cy="211.21" r="1.5"/>
<circle cx="182.08" cy="211.23" r="1.5"/>
<circle cx="182.30" cy="211.24" r="1.5"/>
<circle cx="182.51" cy="211.25" r="1.5"/>
<circle cx="182.73" cy="211.27" r="1.5"/>
<circle cx="182.94" cy="211.28" r="1.5"/>
<circle cx="183.16" cy="211.29" r="1.5"/>
<circle cx="183.37" cy="211.31" r="1.5"/>
<circle cx="183.58" cy="211.32" r="1.5"/>
<circle cx="183.80" cy="211.33" r="1.5"/>
<circle cx="184.01" cy="211.35" r="1.5"/>
<circle cx="184.23" cy="211.36" r="1.5"/>
<circle cx="184.44" cy="211.37" r="1.5"/>
<circle cx="184.66" cy="211.39" r="1.5"/>
<circle cx="184.87" cy="211.40" r="1.5"/>
<circle cx="185.09" cy="211.41" r="1.5"/>
<circle cx="185.30" cy="211.43" r="1.5"/>
<circle cx="185.52" cy="211.44" r="1.5"/>
<circle cx="185.73" cy="211.45" r="1.5"/>
<circle cx="185.95" cy="211.47" r="1.5"/>
<circle cx="186.16" cy="211.48" r="1.5"/>
<circle cx="186.38" cy="211.49" r="1.5"/>
<circle cx="186.59" cy="211.51" r="1.5"/>
<circle cx="186.81" cy="211.52" r="1.5"/>
<circle cx="187.02" cy="211.53" r="1.5"/>
<circle cx="187.23" cy="211.55" r="1.5"/>
<circle cx="187.45" cy="211.56" r="1.5"/>
<circle cx="187.66" cy="211.57" r="1.5"/>
<circle cx="187.88" cy="211.59" r="1.5"/>
<circle cx="188.09" cy="211.60" r="1.5"/>
<circle cx="188.31" cy="211.61" r="1.5"/>
<circle cx="188.52" cy="211.63" r="1.5"/>
<circle cx="188.74" cy="211.64" r="1.5"/>
<circle cx="188.95" cy="211.65" r="1.5"/>
<circle cx="189.17" cy="211.67" r="1.5"/>
<circle cx="189.38" cy="211.68" r="1.5"/>
<circle cx="189.60" cy="211.69" r="1.5"/>
<circle cx="189.81" cy="211.71" r="1.5"/>
<circle cx="190.03" cy="211.72" r="1.5"/>
<circle cx="190.24" cy="211.73" r="1.5"/>
<circle cx="190.46" cy="211.75" r="1.5"/>
<circle cx="190.67" cy="211.76" r="1.5"/>
<circle cx="190.88" cy="211.77" r="1.5"/>
<circle cx="191.10" cy="211.79" r="1.5"/>
<circle cx="191.31" cy="211.80" r="1.5"/>
<circle cx="191.53" cy="211.81" r="1.5"/>
<circle cx="191.74" cy="211.83" r="1.5"/>
<circle cx="191.96" cy="211.84" r="1.5"/>
<circle cx="192.17" cy="211.85" r="1.5"/>
<circle cx="192.39" cy="211.87" r="1.5"/>
<circle cx="192.60" cy="211.88" r="1.5"/>
<circle cx="192.82" cy="211.89" r="1.5"/>
<circle cx="193.03" cy="211.91" r="1.5"/>
<circle cx="193.25" cy="211.92" r="1.5"/>
<circle cx="193.46" cy="211.93" r="1.5"/>
<circle cx="193.68" cy="211.95" r="1.5"/>
<circle cx="193.89" cy="211.96" r="1.5"/>
<circle cx="194.11" cy="211.97" r="1.5"/>
<circle cx="194.32" cy="211.99" r="1.5"/>
<circle cx="194.53" cy="212.00" r="1.5"/>
<circle cx="194.75" cy="212.01" r="1.5"/>
<circle cx="194.96" cy="212.02" r="1.5"/>
<circle cx="195.18" cy="212.04" r="1.5"/>
<circle cx="195.39" cy="212.05" r="1.5"/>
<circle cx="195.61" cy="212.06" r="1.5"/>
<circle cx="195.82" cy="212.08" r="1.5"/>
<circle cx="196.04" cy="212.09" r="1.5"/>
<circle cx="196.25" cy="212.10" r="1.5"/>
<circle cx="196.47" cy="212.12" r="2.3" fill="#dcd8e2" stroke="#62ae3c" stroke-width="1.35"/>
<circle cx="196.68" cy="212.16" r="1.5"/>
<circle cx="196.90" cy="212.20" r="1.5"/>
<circle cx="197.11" cy="212.25" r="1.5"/>
<circle cx="197.33" cy="212.29" r="1.5"/>
<circle cx="197.54" cy="212.33" r="1.5"/>
<circle cx="197.75" cy="212.38" r="1.5"/>
<circle cx="197.97" cy="212.42" r="1.5"/>
<circle cx="198.18" cy="212.46" r="1.5"/>
<circle cx="198.40" cy="212.50" r="1.5"/>
<circle cx="198.61" cy="212.55" r="1.5"/>
<circle cx="198.83" cy="212.59" r="1.5"/>
<circle cx="199.04" cy="212.63" r="1.5"/>
<circle cx="199.26" cy="212.68" r="1.5"/>
<circle cx="199.47" cy="212.72" r="1.5"/>
<circle cx="199.69" cy="212.76" r="1.5"/>
<circle cx="199.90" cy="212.80" r="1.5"/>
<circle cx="200.12" cy="212.85" r="1.5"/>
<circle cx="200.33" cy="212.89" r="1.5"/>
<circle cx="200.55" cy="212.93" r="1.5"/>
<circle cx="200.76" cy="212.98" r="1.5"/>
<circle cx="200.98" cy="213.02" r="1.5"/>
<circle cx="201.19" cy="213.06" r="1.5"/>
<circle cx="201.40" cy="213.11" r="1.5"/>
<circle cx="201.62" cy="213.15" r="1.5"/>
<circle cx="201.83" cy="213.19" r="1.5"/>
<circle cx="202.05" cy="213.23" r="2.3" fill="#dcd8e2" stroke="#62ae3c" stroke-width="1.35"/>
<circle cx="202.26" cy="213.28" r="1.5"/>
<circle cx="202.48" cy="213.32" r="1.5"/>
<circle cx="202.69" cy="213.36" r="1.5"/>
<circle cx="202.91" cy="213.41" r="1.5"/>
<circle cx="203.12" cy="213.45" r="1.5"/>
<circle cx="203.34" cy="213.49" r="1.5"/>
<circle cx="203.55" cy="213.54" r="1.5"/>
<circle cx="203.77" cy="213.58" r="1.5"/>
<circle cx="203.98" cy="213.62" r="1.5"/>
<circle cx="204.20" cy="213.67" r="1.5"/>
<circle cx="204.41" cy="213.71" r="1.5"/>
<circle cx="204.63" cy="213.75" r="1.5"/>
<circle cx="204.84" cy="213.80" r="1.5"/>
<circle cx="205.05" cy="213.84" r="1.5"/>
<circle cx="205.27" cy="213.88" r="1.5"/>
<circle cx="205.48" cy="213.93" r="1.5"/>
<circle cx="205.70" cy="213.97" r="1.5"/>
<circle cx="205.91" cy="214.02" r="1.5"/>
<circle cx="206.13" cy="214.06" r="1.5"/>
<circle cx="206.34" cy="214.10" r="1.5"/>
<circle cx="206.56" cy="214.15" r="1.5"/>
<circle cx="206.77" cy="214.19" r="1.5"/>
<circle cx="206.99" cy="214.23" r="1.5"/>
<circle cx="207.20" cy="214.28" r="1.5"/>
<circle cx="207.42" cy="214.32" r="1.5"/>
<circle cx="207.63" cy="214.36" r="1.5"/>
<circle cx="207.85" cy="214.41" r="1.5"/>
<circle cx="208.06" cy="214.45" r="1.5"/>
<circle cx="208.28" cy="214.49" r="1.5"/>
<circle cx="208.49" cy="214.54" r="1.5"/>
<circle cx="208.70" cy="214.65" r="1.5"/>
<circle cx="208.92" cy="214.76" r="1.5"/>
<circle cx="209.13" cy="214.87" r="1.5"/>
<circle cx="209.35" cy="214.98" r="1.5"/>
<circle cx="209.56" cy="215.09" r="1.5"/>
<circle cx="209.78" cy="215.21" r="1.5"/>
<circle cx="209.99" cy="215.32" r="1.5"/>
<circle cx="210.21" cy="215.43" r="1.5"/>
<circle cx="210.42" cy="215.54" r="1.5"/>
<circle cx="210.64" cy="215.65" r="1.5"/>
<circle cx="210.85" cy="215.76" r="1.5"/>
<circle cx="211.07" cy="215.88" r="1.5"/>
<circle cx="211.28" cy="215.99" r="1.5"/>
<circle cx="211.50" cy="216.10" r="1.5"/>
<circle cx="211.71" cy="216.21" r="1.5"/>
<circle cx="211.93" cy="216.32" r="1.5"/>
<circle cx="212.14" cy="216.43" r="1.5"/>
<circle cx="212.35" cy="216.54" r="1.5"/>
<circle cx="212.57" cy="216.66" r="1.5"/>
<circle cx="212.78" cy="216.77" r="1.5"/>
<circle cx="213.00" cy="216.88" r="1.5"/>
<circle cx="213.21" cy="216.99" r="1.5"/>
<circle cx="213.43" cy="217.10" r="1.5"/>
<circle cx="213.64" cy="217.21" r="1.5"/>
<circle cx="213.86" cy="217.33" r="1.5"/>
<circle cx="214.07" cy="217.44" r="1.5"/>
<circle cx="214.29" cy="217.55" r="1.5"/>
<circle cx="214.50" cy="217.66" r="1.5"/>
<circle cx="214.72" cy="217.77" r="1.5"/>
<circle cx="214.93" cy="217.88" r="2.3" fill="#dcd8e2" stroke="#62ae3c" stroke-width="1.35"/>
<circle cx="215.15" cy="218.14" r="1.5"/>
<circle cx="215.36" cy="218.40" r="1.5"/>
<circle cx="215.58" cy="218.67" r="1.5"/>
<circle cx="215.79" cy="218.93" r="1.5"/>
<circle cx="216.00" cy="219.19" r="1.5"/>
<circle cx="216.22" cy="219.45" r="1.5"/>
<circle cx="216.43" cy="219.71" r="1.5"/>
<circle cx="216.65" cy="219.97" r="1.5"/>
<circle cx="216.86" cy="220.23" r="1.5"/>
<circle cx="217.08" cy="220.49" r="1.5"/>
<circle cx="217.29" cy="220.86" r="1.5"/>
<circle cx="217.51" cy="221.23" r="1.5"/>
<circle cx="217.72" cy="221.60" r="1.5"/>
<circle cx="217.94" cy="221.98" r="1.5"/>
<circle cx="218.15" cy="222.35" r="1.5"/>
<circle cx="218.37" cy="222.72" r="1.5"/>
<circle cx="219.44" cy="235.00" r="2.0"/>
<circle cx="219.87" cy="241.69" r="2.0"/>
</g>
<text x="83.70" y="199.90" font-size="5.3" fill="#1e6643" textLength="23.30" lengthAdjust="spacingAndGlyphs">RB1 sgRNA</text>
<text x="171.20" y="228.00" font-size="5.3" fill="#62ae3c" textLength="33.00" lengthAdjust="spacingAndGlyphs">CDKN2C sgRNA</text>
<text x="385.10" y="156.00" font-size="7.8" fill="#000" text-anchor="middle" textLength="21.81" lengthAdjust="spacingAndGlyphs">MM1S</text>
<text x="385.10" y="164.40" font-size="7.2" fill="#000" text-anchor="middle" textLength="73.30" lengthAdjust="spacingAndGlyphs">bortezomib intermittent</text>
<text x="261.70" y="209.20" font-size="6.4" fill="#000" text-anchor="middle" textLength="58.80" lengthAdjust="spacingAndGlyphs" transform="rotate(-90 261.70 209.20)" stroke="#000" stroke-width="0.3">Z-score sgRNA read count</text>
<text x="272.40" y="209.20" font-size="6.4" fill="#000" text-anchor="middle" textLength="24.60" lengthAdjust="spacingAndGlyphs" transform="rotate(-90 272.40 209.20)" stroke="#000" stroke-width="0.3">Bor/DMSO</text>
<line x1="292.90" y1="206.50" x2="469.20" y2="206.50" stroke="#444" stroke-width="0.9" stroke-dasharray="1.45 1.45"/>
<line x1="292.90" y1="213.50" x2="469.20" y2="213.50" stroke="#444" stroke-width="0.9" stroke-dasharray="1.45 1.45"/>
<line x1="292.90" y1="209.90" x2="469.20" y2="209.90" stroke="#c4c4c4" stroke-width="0.7" stroke-dasharray="0.8 0.7"/>
<text x="470.50" y="208.00" font-size="4.6" fill="#000" textLength="6.30" lengthAdjust="spacingAndGlyphs">SD</text>
<text x="470.50" y="211.60" font-size="4.6" fill="#000" textLength="6.50" lengthAdjust="spacingAndGlyphs">avg</text>
<text x="470.50" y="216.80" font-size="4.6" fill="#000" textLength="6.30" lengthAdjust="spacingAndGlyphs">SD</text>
<path d="M292.30 169.40V253.50H470.50" fill="none" stroke="#000" stroke-width="1.15"/>
<line x1="289.70" y1="172.50" x2="292.30" y2="172.50" stroke="#000" stroke-width="0.9"/>
<text x="286.70" y="174.45" font-size="5.5" fill="#000" text-anchor="end">10</text>
<line x1="289.70" y1="191.10" x2="292.30" y2="191.10" stroke="#000" stroke-width="0.9"/>
<text x="286.70" y="193.05" font-size="5.5" fill="#000" text-anchor="end">5</text>
<line x1="289.70" y1="209.70" x2="292.30" y2="209.70" stroke="#000" stroke-width="0.9"/>
<line x1="289.70" y1="228.30" x2="292.30" y2="228.30" stroke="#000" stroke-width="0.9"/>
<text x="286.70" y="230.25" font-size="5.5" fill="#000" text-anchor="end">-5</text>
<line x1="289.70" y1="246.90" x2="292.30" y2="246.90" stroke="#000" stroke-width="0.9"/>
<text x="286.70" y="248.85" font-size="5.5" fill="#000" text-anchor="end">-10</text>
<line x1="321.03" y1="253.50" x2="321.03" y2="256.30" stroke="#000" stroke-width="0.9"/>
<text x="321.03" y="265.10" font-size="5.3" fill="#000" text-anchor="middle" textLength="8.60" lengthAdjust="spacingAndGlyphs">100</text>
<line x1="342.36" y1="253.50" x2="342.36" y2="256.30" stroke="#000" stroke-width="0.9"/>
<text x="342.36" y="265.10" font-size="5.3" fill="#000" text-anchor="middle" textLength="8.60" lengthAdjust="spacingAndGlyphs">200</text>
<line x1="363.69" y1="253.50" x2="363.69" y2="256.30" stroke="#000" stroke-width="0.9"/>
<text x="363.69" y="265.10" font-size="5.3" fill="#000" text-anchor="middle" textLength="8.60" lengthAdjust="spacingAndGlyphs">300</text>
<line x1="385.02" y1="253.50" x2="385.02" y2="256.30" stroke="#000" stroke-width="0.9"/>
<text x="385.02" y="265.10" font-size="5.3" fill="#000" text-anchor="middle" textLength="8.60" lengthAdjust="spacingAndGlyphs">400</text>
<line x1="406.35" y1="253.50" x2="406.35" y2="256.30" stroke="#000" stroke-width="0.9"/>
<text x="406.35" y="265.10" font-size="5.3" fill="#000" text-anchor="middle" textLength="8.60" lengthAdjust="spacingAndGlyphs">500</text>
<line x1="427.68" y1="253.50" x2="427.68" y2="256.30" stroke="#000" stroke-width="0.9"/>
<text x="427.68" y="265.10" font-size="5.3" fill="#000" text-anchor="middle" textLength="8.60" lengthAdjust="spacingAndGlyphs">600</text>
<line x1="449.01" y1="253.50" x2="449.01" y2="256.30" stroke="#000" stroke-width="0.9"/>
<text x="449.01" y="265.10" font-size="5.3" fill="#000" text-anchor="middle" textLength="8.60" lengthAdjust="spacingAndGlyphs">700</text>
<text x="384.80" y="274.80" font-size="7.0" fill="#000" text-anchor="middle" textLength="31.00" lengthAdjust="spacingAndGlyphs" stroke="#000" stroke-width="0.25">sgRNA library</text>
<g fill="#cfcfd3" stroke="#c3c3c8" stroke-width="0.65">
<circle cx="300.34" cy="201.22" r="2.3" fill="#dcd8e2" stroke="#1e6643" stroke-width="1.35"/>
<circle cx="300.55" cy="201.45" r="1.5"/>
<circle cx="300.77" cy="201.68" r="1.5"/>
<circle cx="300.98" cy="201.90" r="1.5"/>
<circle cx="301.19" cy="202.13" r="1.5"/>
<circle cx="301.41" cy="202.36" r="1.5"/>
<circle cx="301.62" cy="202.59" r="1.5"/>
<circle cx="301.83" cy="202.82" r="1.5"/>
<circle cx="302.05" cy="202.96" r="1.5"/>
<circle cx="302.26" cy="203.11" r="1.5"/>
<circle cx="302.47" cy="203.25" r="1.5"/>
<circle cx="302.69" cy="203.40" r="1.5"/>
<circle cx="302.90" cy="203.54" r="1.5"/>
<circle cx="303.11" cy="203.69" r="1.5"/>
<circle cx="303.33" cy="203.83" r="1.5"/>
<circle cx="303.54" cy="203.98" r="1.5"/>
<circle cx="303.75" cy="204.12" r="2.3" fill="#dcd8e2" stroke="#62ae3c" stroke-width="1.35"/>
<circle cx="303.97" cy="204.21" r="1.5"/>
<circle cx="304.18" cy="204.31" r="1.5"/>
<circle cx="304.39" cy="204.40" r="1.5"/>
<circle cx="304.61" cy="204.50" r="1.5"/>
<circle cx="304.82" cy="204.59" r="1.5"/>
<circle cx="305.03" cy="204.69" r="1.5"/>
<circle cx="305.25" cy="204.78" r="1.5"/>
<circle cx="305.46" cy="204.88" r="1.5"/>
<circle cx="305.67" cy="204.97" r="1.5"/>
<circle cx="305.89" cy="205.07" r="1.5"/>
<circle cx="306.10" cy="205.16" r="1.5"/>
<circle cx="306.31" cy="205.21" r="1.5"/>
<circle cx="306.53" cy="205.26" r="1.5"/>
<circle cx="306.74" cy="205.31" r="1.5"/>
<circle cx="306.95" cy="205.35" r="1.5"/>
<circle cx="307.17" cy="205.40" r="1.5"/>
<circle cx="307.38" cy="205.45" r="1.5"/>
<circle cx="307.59" cy="205.50" r="2.3" fill="#dcd8e2" stroke="#1e6643" stroke-width="1.35"/>
<circle cx="307.81" cy="205.53" r="1.5"/>
<circle cx="308.02" cy="205.56" r="1.5"/>
<circle cx="308.23" cy="205.59" r="1.5"/>
<circle cx="308.45" cy="205.62" r="1.5"/>
<circle cx="308.66" cy="205.65" r="1.5"/>
<circle cx="308.87" cy="205.67" r="1.5"/>
<circle cx="309.09" cy="205.70" r="1.5"/>
<circle cx="309.30" cy="205.73" r="1.5"/>
<circle cx="309.51" cy="205.76" r="1.5"/>
<circle cx="309.73" cy="205.79" r="2.3" fill="#dcd8e2" stroke="#62ae3c" stroke-width="1.35"/>
<circle cx="309.94" cy="205.80" r="1.5"/>
<circle cx="310.15" cy="205.81" r="1.5"/>
<circle cx="310.37" cy="205.82" r="1.5"/>
<circle cx="310.58" cy="205.83" r="1.5"/>
<circle cx="310.79" cy="205.84" r="1.5"/>
<circle cx="311.00" cy="205.85" r="1.5"/>
<circle cx="311.22" cy="205.86" r="1.5"/>
<circle cx="311.43" cy="205.87" r="1.5"/>
<circle cx="311.64" cy="205.88" r="1.5"/>
<circle cx="311.86" cy="205.89" r="2.3" fill="#dcd8e2" stroke="#62ae3c" stroke-width="1.35"/>
<circle cx="312.07" cy="205.90" r="1.5"/>
<circle cx="312.28" cy="205.91" r="1.5"/>
<circle cx="312.50" cy="205.91" r="1.5"/>
<circle cx="312.71" cy="205.92" r="1.5"/>
<circle cx="312.92" cy="205.93" r="1.5"/>
<circle cx="313.14" cy="205.94" r="1.5"/>
<circle cx="313.35" cy="205.95" r="1.5"/>
<circle cx="313.56" cy="205.96" r="1.5"/>
<circle cx="313.78" cy="205.97" r="1.5"/>
<circle cx="313.99" cy="205.98" r="2.3" fill="#dcd8e2" stroke="#62ae3c" stroke-width="1.35"/>
<circle cx="314.20" cy="206.01" r="1.5"/>
<circle cx="314.42" cy="206.04" r="1.5"/>
<circle cx="314.63" cy="206.08" r="1.5"/>
<circle cx="314.84" cy="206.11" r="1.5"/>
<circle cx="315.06" cy="206.14" r="1.5"/>
<circle cx="315.27" cy="206.17" r="1.5"/>
<circle cx="315.48" cy="206.21" r="1.5"/>
<circle cx="315.70" cy="206.24" r="1.5"/>
<circle cx="315.91" cy="206.27" r="1.5"/>
<circle cx="316.12" cy="206.30" r="1.5"/>
<circle cx="316.34" cy="206.34" r="1.5"/>
<circle cx="316.55" cy="206.37" r="1.5"/>
<circle cx="316.76" cy="206.40" r="1.5"/>
<circle cx="316.98" cy="206.43" r="1.5"/>
<circle cx="317.19" cy="206.47" r="1.5"/>
<circle cx="317.40" cy="206.50" r="1.5"/>
<circle cx="317.62" cy="206.53" r="1.5"/>
<circle cx="317.83" cy="206.56" r="1.5"/>
<circle cx="318.04" cy="206.59" r="1.5"/>
<circle cx="318.26" cy="206.63" r="1.5"/>
<circle cx="318.47" cy="206.66" r="1.5"/>
<circle cx="318.68" cy="206.69" r="1.5"/>
<circle cx="318.90" cy="206.72" r="2.3" fill="#dcd8e2" stroke="#1e6643" stroke-width="1.35"/>
<circle cx="319.11" cy="206.76" r="1.5"/>
<circle cx="319.32" cy="206.79" r="1.5"/>
<circle cx="319.54" cy="206.82" r="1.5"/>
<circle cx="319.75" cy="206.85" r="1.5"/>
<circle cx="319.96" cy="206.88" r="1.5"/>
<circle cx="320.18" cy="206.92" r="1.5"/>
<circle cx="320.39" cy="206.95" r="1.5"/>
<circle cx="320.60" cy="206.98" r="1.5"/>
<circle cx="320.82" cy="207.01" r="1.5"/>
<circle cx="321.03" cy="207.05" r="1.5"/>
<circle cx="321.24" cy="207.08" r="1.5"/>
<circle cx="321.46" cy="207.11" r="1.5"/>
<circle cx="321.67" cy="207.14" r="1.5"/>
<circle cx="321.88" cy="207.17" r="1.5"/>
<circle cx="322.10" cy="207.21" r="1.5"/>
<circle cx="322.31" cy="207.24" r="1.5"/>
<circle cx="322.52" cy="207.27" r="1.5"/>
<circle cx="322.74" cy="207.30" r="1.5"/>
<circle cx="322.95" cy="207.34" r="1.5"/>
<circle cx="323.16" cy="207.37" r="1.5"/>
<circle cx="323.38" cy="207.40" r="1.5"/>
<circle cx="323.59" cy="207.43" r="1.5"/>
<circle cx="323.80" cy="207.46" r="1.5"/>
<circle cx="324.02" cy="207.50" r="1.5"/>
<circle cx="324.23" cy="207.53" r="1.5"/>
<circle cx="324.44" cy="207.56" r="1.5"/>
<circle cx="324.66" cy="207.59" r="1.5"/>
<circle cx="324.87" cy="207.63" r="1.5"/>
<circle cx="325.08" cy="207.66" r="1.5"/>
<circle cx="325.30" cy="207.69" r="1.5"/>
<circle cx="325.51" cy="207.72" r="1.5"/>
<circle cx="325.72" cy="207.75" r="1.5"/>
<circle cx="325.94" cy="207.79" r="1.5"/>
<circle cx="326.15" cy="207.82" r="1.5"/>
<circle cx="326.36" cy="207.85" r="1.5"/>
<circle cx="326.58" cy="207.88" r="1.5"/>
<circle cx="326.79" cy="207.92" r="1.5"/>
<circle cx="327.00" cy="207.95" r="1.5"/>
<circle cx="327.22" cy="207.98" r="1.5"/>
<circle cx="327.43" cy="208.01" r="1.5"/>
<circle cx="327.64" cy="208.04" r="1.5"/>
<circle cx="327.86" cy="208.08" r="1.5"/>
<circle cx="328.07" cy="208.11" r="1.5"/>
<circle cx="328.28" cy="208.14" r="1.5"/>
<circle cx="328.50" cy="208.17" r="1.5"/>
<circle cx="328.71" cy="208.20" r="1.5"/>
<circle cx="328.92" cy="208.24" r="1.5"/>
<circle cx="329.14" cy="208.27" r="1.5"/>
<circle cx="329.35" cy="208.30" r="1.5"/>
<circle cx="329.56" cy="208.33" r="1.5"/>
<circle cx="329.78" cy="208.37" r="1.5"/>
<circle cx="329.99" cy="208.40" r="1.5"/>
<circle cx="330.20" cy="208.41" r="1.5"/>
<circle cx="330.42" cy="208.41" r="1.5"/>
<circle cx="330.63" cy="208.42" r="1.5"/>
<circle cx="330.84" cy="208.43" r="1.5"/>
<circle cx="331.06" cy="208.44" r="1.5"/>
<circle cx="331.27" cy="208.45" r="1.5"/>
<circle cx="331.48" cy="208.45" r="1.5"/>
<circle cx="331.69" cy="208.46" r="1.5"/>
<circle cx="331.91" cy="208.47" r="1.5"/>
<circle cx="332.12" cy="208.48" r="1.5"/>
<circle cx="332.33" cy="208.49" r="1.5"/>
<circle cx="332.55" cy="208.49" r="1.5"/>
<circle cx="332.76" cy="208.50" r="1.5"/>
<circle cx="332.97" cy="208.51" r="1.5"/>
<circle cx="333.19" cy="208.52" r="1.5"/>
<circle cx="333.40" cy="208.52" r="1.5"/>
<circle cx="333.61" cy="208.53" r="1.5"/>
<circle cx="333.83" cy="208.54" r="1.5"/>
<circle cx="334.04" cy="208.55" r="1.5"/>
<circle cx="334.25" cy="208.56" r="1.5"/>
<circle cx="334.47" cy="208.56" r="1.5"/>
<circle cx="334.68" cy="208.57" r="1.5"/>
<circle cx="334.89" cy="208.58" r="1.5"/>
<circle cx="335.11" cy="208.59" r="1.5"/>
<circle cx="335.32" cy="208.60" r="1.5"/>
<circle cx="335.53" cy="208.60" r="1.5"/>
<circle cx="335.75" cy="208.61" r="1.5"/>
<circle cx="335.96" cy="208.62" r="1.5"/>
<circle cx="336.17" cy="208.63" r="1.5"/>
<circle cx="336.39" cy="208.64" r="1.5"/>
<circle cx="336.60" cy="208.64" r="1.5"/>
<circle cx="336.81" cy="208.65" r="1.5"/>
<circle cx="337.03" cy="208.66" r="1.5"/>
<circle cx="337.24" cy="208.67" r="1.5"/>
<circle cx="337.45" cy="208.68" r="1.5"/>
<circle cx="337.67" cy="208.68" r="1.5"/>
<circle cx="337.88" cy="208.69" r="1.5"/>
<circle cx="338.09" cy="208.70" r="1.5"/>
<circle cx="338.31" cy="208.71" r="1.5"/>
<circle cx="338.52" cy="208.71" r="1.5"/>
<circle cx="338.73" cy="208.72" r="1.5"/>
<circle cx="338.95" cy="208.73" r="1.5"/>
<circle cx="339.16" cy="208.74" r="1.5"/>
<circle cx="339.37" cy="208.75" r="1.5"/>
<circle cx="339.59" cy="208.75" r="1.5"/>
<circle cx="339.80" cy="208.76" r="1.5"/>
<circle cx="340.01" cy="208.77" r="1.5"/>
<circle cx="340.23" cy="208.78" r="1.5"/>
<circle cx="340.44" cy="208.79" r="1.5"/>
<circle cx="340.65" cy="208.79" r="1.5"/>
<circle cx="340.87" cy="208.80" r="1.5"/>
<circle cx="341.08" cy="208.81" r="1.5"/>
<circle cx="341.29" cy="208.82" r="1.5"/>
<circle cx="341.51" cy="208.83" r="1.5"/>
<circle cx="341.72" cy="208.83" r="1.5"/>
<circle cx="341.93" cy="208.84" r="1.5"/>
<circle cx="342.15" cy="208.85" r="1.5"/>
<circle cx="342.36" cy="208.86" r="1.5"/>
<circle cx="342.57" cy="208.86" r="1.5"/>
<circle cx="342.79" cy="208.87" r="1.5"/>
<circle cx="343.00" cy="208.88" r="1.5"/>
<circle cx="343.21" cy="208.89" r="1.5"/>
<circle cx="343.43" cy="208.90" r="1.5"/>
<circle cx="343.64" cy="208.90" r="1.5"/>
<circle cx="343.85" cy="208.91" r="1.5"/>
<circle cx="344.07" cy="208.92" r="1.5"/>
<circle cx="344.28" cy="208.93" r="1.5"/>
<circle cx="344.49" cy="208.94" r="1.5"/>
<circle cx="344.71" cy="208.94" r="1.5"/>
<circle cx="344.92" cy="208.95" r="1.5"/>
<circle cx="345.13" cy="208.96" r="1.5"/>
<circle cx="345.35" cy="208.97" r="1.5"/>
<circle cx="345.56" cy="208.98" r="1.5"/>
<circle cx="345.77" cy="208.98" r="1.5"/>
<circle cx="345.99" cy="208.99" r="1.5"/>
<circle cx="346.20" cy="209.00" r="1.5"/>
<circle cx="346.41" cy="209.01" r="1.5"/>
<circle cx="346.63" cy="209.02" r="1.5"/>
<circle cx="346.84" cy="209.02" r="1.5"/>
<circle cx="347.05" cy="209.03" r="1.5"/>
<circle cx="347.27" cy="209.04" r="1.5"/>
<circle cx="347.48" cy="209.05" r="1.5"/>
<circle cx="347.69" cy="209.05" r="1.5"/>
<circle cx="347.91" cy="209.06" r="1.5"/>
<circle cx="348.12" cy="209.07" r="1.5"/>
<circle cx="348.33" cy="209.08" r="1.5"/>
<circle cx="348.55" cy="209.09" r="1.5"/>
<circle cx="348.76" cy="209.09" r="1.5"/>
<circle cx="348.97" cy="209.10" r="1.5"/>
<circle cx="349.19" cy="209.11" r="1.5"/>
<circle cx="349.40" cy="209.12" r="1.5"/>
<circle cx="349.61" cy="209.13" r="1.5"/>
<circle cx="349.83" cy="209.13" r="1.5"/>
<circle cx="350.04" cy="209.14" r="1.5"/>
<circle cx="350.25" cy="209.15" r="1.5"/>
<circle cx="350.47" cy="209.16" r="1.5"/>
<circle cx="350.68" cy="209.17" r="1.5"/>
<circle cx="350.89" cy="209.17" r="1.5"/>
<circle cx="351.11" cy="209.18" r="1.5"/>
<circle cx="351.32" cy="209.19" r="1.5"/>
<circle cx="351.53" cy="209.20" r="1.5"/>
<circle cx="351.75" cy="209.21" r="1.5"/>
<circle cx="351.96" cy="209.21" r="1.5"/>
<circle cx="352.17" cy="209.22" r="1.5"/>
<circle cx="352.39" cy="209.23" r="1.5"/>
<circle cx="352.60" cy="209.24" r="1.5"/>
<circle cx="352.81" cy="209.24" r="1.5"/>
<circle cx="353.02" cy="209.25" r="1.5"/>
<circle cx="353.24" cy="209.26" r="1.5"/>
<circle cx="353.45" cy="209.27" r="1.5"/>
<circle cx="353.66" cy="209.28" r="1.5"/>
<circle cx="353.88" cy="209.28" r="1.5"/>
<circle cx="354.09" cy="209.29" r="1.5"/>
<circle cx="354.30" cy="209.30" r="1.5"/>
<circle cx="354.52" cy="209.31" r="1.5"/>
<circle cx="354.73" cy="209.32" r="1.5"/>
<circle cx="354.94" cy="209.32" r="1.5"/>
<circle cx="355.16" cy="209.33" r="1.5"/>
<circle cx="355.37" cy="209.34" r="1.5"/>
<circle cx="355.58" cy="209.35" r="1.5"/>
<circle cx="355.80" cy="209.36" r="1.5"/>
<circle cx="356.01" cy="209.36" r="1.5"/>
<circle cx="356.22" cy="209.37" r="1.5"/>
<circle cx="356.44" cy="209.38" r="1.5"/>
<circle cx="356.65" cy="209.39" r="1.5"/>
<circle cx="356.86" cy="209.40" r="1.5"/>
<circle cx="357.08" cy="209.40" r="1.5"/>
<circle cx="357.29" cy="209.41" r="1.5"/>
<circle cx="357.50" cy="209.42" r="1.5"/>
<circle cx="357.72" cy="209.43" r="1.5"/>
<circle cx="357.93" cy="209.43" r="1.5"/>
<circle cx="358.14" cy="209.44" r="1.5"/>
<circle cx="358.36" cy="209.45" r="1.5"/>
<circle cx="358.57" cy="209.46" r="1.5"/>
<circle cx="358.78" cy="209.47" r="1.5"/>
<circle cx="359.00" cy="209.47" r="1.5"/>
<circle cx="359.21" cy="209.48" r="1.5"/>
<circle cx="359.42" cy="209.49" r="1.5"/>
<circle cx="359.64" cy="209.50" r="1.5"/>
<circle cx="359.85" cy="209.51" r="1.5"/>
<circle cx="360.06" cy="209.51" r="1.5"/>
<circle cx="360.28" cy="209.52" r="1.5"/>
<circle cx="360.49" cy="209.53" r="1.5"/>
<circle cx="360.70" cy="209.53" r="1.5"/>
<circle cx="360.92" cy="209.54" r="1.5"/>
<circle cx="361.13" cy="209.55" r="1.5"/>
<circle cx="361.34" cy="209.55" r="1.5"/>
<circle cx="361.56" cy="209.56" r="1.5"/>
<circle cx="361.77" cy="209.57" r="1.5"/>
<circle cx="361.98" cy="209.57" r="1.5"/>
<circle cx="362.20" cy="209.58" r="1.5"/>
<circle cx="362.41" cy="209.59" r="1.5"/>
<circle cx="362.62" cy="209.59" r="1.5"/>
<circle cx="362.84" cy="209.60" r="1.5"/>
<circle cx="363.05" cy="209.61" r="1.5"/>
<circle cx="363.26" cy="209.61" r="1.5"/>
<circle cx="363.48" cy="209.62" r="1.5"/>
<circle cx="363.69" cy="209.63" r="1.5"/>
<circle cx="363.90" cy="209.63" r="1.5"/>
<circle cx="364.12" cy="209.64" r="1.5"/>
<circle cx="364.33" cy="209.65" r="1.5"/>
<circle cx="364.54" cy="209.65" r="1.5"/>
<circle cx="364.76" cy="209.66" r="1.5"/>
<circle cx="364.97" cy="209.67" r="1.5"/>
<circle cx="365.18" cy="209.67" r="1.5"/>
<circle cx="365.40" cy="209.68" r="1.5"/>
<circle cx="365.61" cy="209.69" r="1.5"/>
<circle cx="365.82" cy="209.69" r="1.5"/>
<circle cx="366.04" cy="209.70" r="1.5"/>
<circle cx="366.25" cy="209.71" r="1.5"/>
<circle cx="366.46" cy="209.71" r="1.5"/>
<circle cx="366.68" cy="209.72" r="1.5"/>
<circle cx="366.89" cy="209.73" r="1.5"/>
<circle cx="367.10" cy="209.73" r="1.5"/>
<circle cx="367.32" cy="209.74" r="1.5"/>
<circle cx="367.53" cy="209.75" r="1.5"/>
<circle cx="367.74" cy="209.75" r="1.5"/>
<circle cx="367.96" cy="209.76" r="1.5"/>
<circle cx="368.17" cy="209.77" r="1.5"/>
<circle cx="368.38" cy="209.77" r="1.5"/>
<circle cx="368.60" cy="209.78" r="1.5"/>
<circle cx="368.81" cy="209.79" r="1.5"/>
<circle cx="369.02" cy="209.79" r="1.5"/>
<circle cx="369.24" cy="209.80" r="1.5"/>
<circle cx="369.45" cy="209.81" r="1.5"/>
<circle cx="369.66" cy="209.81" r="1.5"/>
<circle cx="369.88" cy="209.82" r="1.5"/>
<circle cx="370.09" cy="209.83" r="1.5"/>
<circle cx="370.30" cy="209.83" r="1.5"/>
<circle cx="370.52" cy="209.84" r="1.5"/>
<circle cx="370.73" cy="209.85" r="1.5"/>
<circle cx="370.94" cy="209.85" r="1.5"/>
<circle cx="371.16" cy="209.86" r="1.5"/>
<circle cx="371.37" cy="209.87" r="1.5"/>
<circle cx="371.58" cy="209.87" r="1.5"/>
<circle cx="371.80" cy="209.88" r="1.5"/>
<circle cx="372.01" cy="209.89" r="1.5"/>
<circle cx="372.22" cy="209.89" r="1.5"/>
<circle cx="372.44" cy="209.90" r="1.5"/>
<circle cx="372.65" cy="209.91" r="1.5"/>
<circle cx="372.86" cy="209.91" r="1.5"/>
<circle cx="373.08" cy="209.92" r="1.5"/>
<circle cx="373.29" cy="209.93" r="1.5"/>
<circle cx="373.50" cy="209.93" r="1.5"/>
<circle cx="373.72" cy="209.94" r="1.5"/>
<circle cx="373.93" cy="209.95" r="1.5"/>
<circle cx="374.14" cy="209.95" r="1.5"/>
<circle cx="374.36" cy="209.96" r="1.5"/>
<circle cx="374.57" cy="209.97" r="1.5"/>
<circle cx="374.78" cy="209.97" r="1.5"/>
<circle cx="374.99" cy="209.98" r="1.5"/>
<circle cx="375.21" cy="209.99" r="1.5"/>
<circle cx="375.42" cy="209.99" r="1.5"/>
<circle cx="375.63" cy="210.00" r="1.5"/>
<circle cx="375.85" cy="210.01" r="1.5"/>
<circle cx="376.06" cy="210.01" r="1.5"/>
<circle cx="376.27" cy="210.02" r="1.5"/>
<circle cx="376.49" cy="210.03" r="1.5"/>
<circle cx="376.70" cy="210.03" r="1.5"/>
<circle cx="376.91" cy="210.04" r="1.5"/>
<circle cx="377.13" cy="210.05" r="1.5"/>
<circle cx="377.34" cy="210.05" r="1.5"/>
<circle cx="377.55" cy="210.06" r="1.5"/>
<circle cx="377.77" cy="210.07" r="1.5"/>
<circle cx="377.98" cy="210.07" r="1.5"/>
<circle cx="378.19" cy="210.08" r="1.5"/>
<circle cx="378.41" cy="210.09" r="1.5"/>
<circle cx="378.62" cy="210.09" r="1.5"/>
<circle cx="378.83" cy="210.10" r="1.5"/>
<circle cx="379.05" cy="210.11" r="1.5"/>
<circle cx="379.26" cy="210.11" r="1.5"/>
<circle cx="379.47" cy="210.12" r="1.5"/>
<circle cx="379.69" cy="210.13" r="1.5"/>
<circle cx="379.90" cy="210.13" r="1.5"/>
<circle cx="380.11" cy="210.14" r="1.5"/>
<circle cx="380.33" cy="210.15" r="1.5"/>
<circle cx="380.54" cy="210.15" r="1.5"/>
<circle cx="380.75" cy="210.16" r="1.5"/>
<circle cx="380.97" cy="210.16" r="1.5"/>
<circle cx="381.18" cy="210.17" r="1.5"/>
<circle cx="381.39" cy="210.18" r="1.5"/>
<circle cx="381.61" cy="210.18" r="1.5"/>
<circle cx="381.82" cy="210.19" r="1.5"/>
<circle cx="382.03" cy="210.20" r="1.5"/>
<circle cx="382.25" cy="210.20" r="1.5"/>
<circle cx="382.46" cy="210.21" r="1.5"/>
<circle cx="382.67" cy="210.22" r="1.5"/>
<circle cx="382.89" cy="210.22" r="1.5"/>
<circle cx="383.10" cy="210.23" r="1.5"/>
<circle cx="383.31" cy="210.24" r="1.5"/>
<circle cx="383.53" cy="210.24" r="1.5"/>
<circle cx="383.74" cy="210.25" r="1.5"/>
<circle cx="383.95" cy="210.26" r="1.5"/>
<circle cx="384.17" cy="210.26" r="1.5"/>
<circle cx="384.38" cy="210.27" r="1.5"/>
<circle cx="384.59" cy="210.28" r="1.5"/>
<circle cx="384.81" cy="210.28" r="1.5"/>
<circle cx="385.02" cy="210.29" r="1.5"/>
<circle cx="385.23" cy="210.30" r="1.5"/>
<circle cx="385.45" cy="210.30" r="1.5"/>
<circle cx="385.66" cy="210.31" r="1.5"/>
<circle cx="385.87" cy="210.32" r="1.5"/>
<circle cx="386.09" cy="210.32" r="1.5"/>
<circle cx="386.30" cy="210.33" r="1.5"/>
<circle cx="386.51" cy="210.34" r="1.5"/>
<circle cx="386.73" cy="210.34" r="1.5"/>
<circle cx="386.94" cy="210.35" r="1.5"/>
<circle cx="387.15" cy="210.36" r="1.5"/>
<circle cx="387.37" cy="210.36" r="1.5"/>
<circle cx="387.58" cy="210.37" r="1.5"/>
<circle cx="387.79" cy="210.38" r="1.5"/>
<circle cx="388.01" cy="210.38" r="1.5"/>
<circle cx="388.22" cy="210.39" r="1.5"/>
<circle cx="388.43" cy="210.40" r="1.5"/>
<circle cx="388.65" cy="210.40" r="1.5"/>
<circle cx="388.86" cy="210.41" r="1.5"/>
<circle cx="389.07" cy="210.42" r="1.5"/>
<circle cx="389.29" cy="210.42" r="1.5"/>
<circle cx="389.50" cy="210.43" r="1.5"/>
<circle cx="389.71" cy="210.44" r="1.5"/>
<circle cx="389.93" cy="210.44" r="1.5"/>
<circle cx="390.14" cy="210.45" r="1.5"/>
<circle cx="390.35" cy="210.46" r="1.5"/>
<circle cx="390.57" cy="210.47" r="1.5"/>
<circle cx="390.78" cy="210.48" r="1.5"/>
<circle cx="390.99" cy="210.48" r="1.5"/>
<circle cx="391.21" cy="210.49" r="1.5"/>
<circle cx="391.42" cy="210.50" r="1.5"/>
<circle cx="391.63" cy="210.51" r="1.5"/>
<circle cx="391.85" cy="210.52" r="1.5"/>
<circle cx="392.06" cy="210.53" r="1.5"/>
<circle cx="392.27" cy="210.53" r="1.5"/>
<circle cx="392.49" cy="210.54" r="1.5"/>
<circle cx="392.70" cy="210.55" r="1.5"/>
<circle cx="392.91" cy="210.56" r="1.5"/>
<circle cx="393.13" cy="210.57" r="1.5"/>
<circle cx="393.34" cy="210.57" r="1.5"/>
<circle cx="393.55" cy="210.58" r="1.5"/>
<circle cx="393.77" cy="210.59" r="1.5"/>
<circle cx="393.98" cy="210.60" r="1.5"/>
<circle cx="394.19" cy="210.61" r="1.5"/>
<circle cx="394.41" cy="210.62" r="1.5"/>
<circle cx="394.62" cy="210.62" r="1.5"/>
<circle cx="394.83" cy="210.63" r="1.5"/>
<circle cx="395.05" cy="210.64" r="1.5"/>
<circle cx="395.26" cy="210.65" r="1.5"/>
<circle cx="395.47" cy="210.66" r="1.5"/>
<circle cx="395.69" cy="210.66" r="1.5"/>
<circle cx="395.90" cy="210.67" r="1.5"/>
<circle cx="396.11" cy="210.68" r="1.5"/>
<circle cx="396.32" cy="210.69" r="1.5"/>
<circle cx="396.54" cy="210.70" r="1.5"/>
<circle cx="396.75" cy="210.71" r="1.5"/>
<circle cx="396.96" cy="210.71" r="1.5"/>
<circle cx="397.18" cy="210.72" r="1.5"/>
<circle cx="397.39" cy="210.73" r="1.5"/>
<circle cx="397.60" cy="210.74" r="1.5"/>
<circle cx="397.82" cy="210.75" r="1.5"/>
<circle cx="398.03" cy="210.75" r="1.5"/>
<circle cx="398.24" cy="210.76" r="1.5"/>
<circle cx="398.46" cy="210.77" r="1.5"/>
<circle cx="398.67" cy="210.78" r="1.5"/>
<circle cx="398.88" cy="210.79" r="1.5"/>
<circle cx="399.10" cy="210.80" r="1.5"/>
<circle cx="399.31" cy="210.80" r="1.5"/>
<circle cx="399.52" cy="210.81" r="1.5"/>
<circle cx="399.74" cy="210.82" r="1.5"/>
<circle cx="399.95" cy="210.83" r="1.5"/>
<circle cx="400.16" cy="210.84" r="1.5"/>
<circle cx="400.38" cy="210.84" r="1.5"/>
<circle cx="400.59" cy="210.85" r="1.5"/>
<circle cx="400.80" cy="210.86" r="1.5"/>
<circle cx="401.02" cy="210.87" r="1.5"/>
<circle cx="401.23" cy="210.88" r="1.5"/>
<circle cx="401.44" cy="210.89" r="1.5"/>
<circle cx="401.66" cy="210.89" r="1.5"/>
<circle cx="401.87" cy="210.90" r="1.5"/>
<circle cx="402.08" cy="210.91" r="1.5"/>
<circle cx="402.30" cy="210.92" r="1.5"/>
<circle cx="402.51" cy="210.93" r="1.5"/>
<circle cx="402.72" cy="210.93" r="1.5"/>
<circle cx="402.94" cy="210.94" r="1.5"/>
<circle cx="403.15" cy="210.95" r="1.5"/>
<circle cx="403.36" cy="210.96" r="1.5"/>
<circle cx="403.58" cy="210.97" r="1.5"/>
<circle cx="403.79" cy="210.98" r="1.5"/>
<circle cx="404.00" cy="210.98" r="1.5"/>
<circle cx="404.22" cy="210.99" r="1.5"/>
<circle cx="404.43" cy="211.00" r="1.5"/>
<circle cx="404.64" cy="211.01" r="1.5"/>
<circle cx="404.86" cy="211.02" r="1.5"/>
<circle cx="405.07" cy="211.02" r="1.5"/>
<circle cx="405.28" cy="211.03" r="1.5"/>
<circle cx="405.50" cy="211.04" r="1.5"/>
<circle cx="405.71" cy="211.05" r="1.5"/>
<circle cx="405.92" cy="211.06" r="1.5"/>
<circle cx="406.14" cy="211.07" r="1.5"/>
<circle cx="406.35" cy="211.07" r="1.5"/>
<circle cx="406.56" cy="211.08" r="1.5"/>
<circle cx="406.78" cy="211.09" r="1.5"/>
<circle cx="406.99" cy="211.10" r="1.5"/>
<circle cx="407.20" cy="211.11" r="1.5"/>
<circle cx="407.42" cy="211.11" r="1.5"/>
<circle cx="407.63" cy="211.12" r="1.5"/>
<circle cx="407.84" cy="211.13" r="1.5"/>
<circle cx="408.06" cy="211.14" r="1.5"/>
<circle cx="408.27" cy="211.15" r="1.5"/>
<circle cx="408.48" cy="211.16" r="1.5"/>
<circle cx="408.70" cy="211.16" r="1.5"/>
<circle cx="408.91" cy="211.17" r="1.5"/>
<circle cx="409.12" cy="211.18" r="1.5"/>
<circle cx="409.34" cy="211.19" r="1.5"/>
<circle cx="409.55" cy="211.20" r="1.5"/>
<circle cx="409.76" cy="211.20" r="1.5"/>
<circle cx="409.98" cy="211.21" r="1.5"/>
<circle cx="410.19" cy="211.22" r="1.5"/>
<circle cx="410.40" cy="211.23" r="1.5"/>
<circle cx="410.62" cy="211.24" r="1.5"/>
<circle cx="410.83" cy="211.25" r="1.5"/>
<circle cx="411.04" cy="211.25" r="1.5"/>
<circle cx="411.26" cy="211.26" r="1.5"/>
<circle cx="411.47" cy="211.27" r="1.5"/>
<circle cx="411.68" cy="211.28" r="1.5"/>
<circle cx="411.90" cy="211.29" r="1.5"/>
<circle cx="412.11" cy="211.29" r="1.5"/>
<circle cx="412.32" cy="211.30" r="1.5"/>
<circle cx="412.54" cy="211.31" r="1.5"/>
<circle cx="412.75" cy="211.32" r="1.5"/>
<circle cx="412.96" cy="211.33" r="1.5"/>
<circle cx="413.18" cy="211.34" r="1.5"/>
<circle cx="413.39" cy="211.34" r="1.5"/>
<circle cx="413.60" cy="211.35" r="1.5"/>
<circle cx="413.82" cy="211.36" r="1.5"/>
<circle cx="414.03" cy="211.37" r="1.5"/>
<circle cx="414.24" cy="211.38" r="1.5"/>
<circle cx="414.46" cy="211.38" r="1.5"/>
<circle cx="414.67" cy="211.39" r="1.5"/>
<circle cx="414.88" cy="211.40" r="1.5"/>
<circle cx="415.10" cy="211.41" r="1.5"/>
<circle cx="415.31" cy="211.42" r="1.5"/>
<circle cx="415.52" cy="211.43" r="1.5"/>
<circle cx="415.74" cy="211.43" r="1.5"/>
<circle cx="415.95" cy="211.44" r="1.5"/>
<circle cx="416.16" cy="211.45" r="1.5"/>
<circle cx="416.38" cy="211.46" r="1.5"/>
<circle cx="416.59" cy="211.47" r="1.5"/>
<circle cx="416.80" cy="211.47" r="1.5"/>
<circle cx="417.01" cy="211.48" r="1.5"/>
<circle cx="417.23" cy="211.49" r="1.5"/>
<circle cx="417.44" cy="211.50" r="1.5"/>
<circle cx="417.65" cy="211.51" r="1.5"/>
<circle cx="417.87" cy="211.52" r="1.5"/>
<circle cx="418.08" cy="211.52" r="1.5"/>
<circle cx="418.29" cy="211.53" r="1.5"/>
<circle cx="418.51" cy="211.54" r="1.5"/>
<circle cx="418.72" cy="211.55" r="1.5"/>
<circle cx="418.93" cy="211.56" r="1.5"/>
<circle cx="419.15" cy="211.56" r="1.5"/>
<circle cx="419.36" cy="211.57" r="1.5"/>
<circle cx="419.57" cy="211.58" r="1.5"/>
<circle cx="419.79" cy="211.59" r="1.5"/>
<circle cx="420.00" cy="211.60" r="1.5"/>
<circle cx="420.21" cy="211.61" r="1.5"/>
<circle cx="420.43" cy="211.63" r="1.5"/>
<circle cx="420.64" cy="211.64" r="1.5"/>
<circle cx="420.85" cy="211.66" r="1.5"/>
<circle cx="421.07" cy="211.67" r="1.5"/>
<circle cx="421.28" cy="211.69" r="1.5"/>
<circle cx="421.49" cy="211.70" r="1.5"/>
<circle cx="421.71" cy="211.72" r="1.5"/>
<circle cx="421.92" cy="211.73" r="1.5"/>
<circle cx="422.13" cy="211.75" r="1.5"/>
<circle cx="422.35" cy="211.76" r="1.5"/>
<circle cx="422.56" cy="211.78" r="1.5"/>
<circle cx="422.77" cy="211.79" r="1.5"/>
<circle cx="422.99" cy="211.81" r="1.5"/>
<circle cx="423.20" cy="211.82" r="1.5"/>
<circle cx="423.41" cy="211.84" r="1.5"/>
<circle cx="423.63" cy="211.85" r="1.5"/>
<circle cx="423.84" cy="211.87" r="1.5"/>
<circle cx="424.05" cy="211.88" r="1.5"/>
<circle cx="424.27" cy="211.90" r="1.5"/>
<circle cx="424.48" cy="211.91" r="1.5"/>
<circle cx="424.69" cy="211.93" r="1.5"/>
<circle cx="424.91" cy="211.94" r="1.5"/>
<circle cx="425.12" cy="211.96" r="1.5"/>
<circle cx="425.33" cy="211.97" r="1.5"/>
<circle cx="425.55" cy="211.99" r="1.5"/>
<circle cx="425.76" cy="212.00" r="1.5"/>
<circle cx="425.97" cy="212.02" r="1.5"/>
<circle cx="426.19" cy="212.03" r="1.5"/>
<circle cx="426.40" cy="212.05" r="1.5"/>
<circle cx="426.61" cy="212.06" r="1.5"/>
<circle cx="426.83" cy="212.08" r="1.5"/>
<circle cx="427.04" cy="212.09" r="1.5"/>
<circle cx="427.25" cy="212.11" r="1.5"/>
<circle cx="427.47" cy="212.12" r="1.5"/>
<circle cx="427.68" cy="212.14" r="1.5"/>
<circle cx="427.89" cy="212.15" r="1.5"/>
<circle cx="428.11" cy="212.17" r="1.5"/>
<circle cx="428.32" cy="212.18" r="1.5"/>
<circle cx="428.53" cy="212.20" r="1.5"/>
<circle cx="428.75" cy="212.21" r="1.5"/>
<circle cx="428.96" cy="212.23" r="1.5"/>
<circle cx="429.17" cy="212.24" r="1.5"/>
<circle cx="429.39" cy="212.26" r="1.5"/>
<circle cx="429.60" cy="212.27" r="1.5"/>
<circle cx="429.81" cy="212.29" r="1.5"/>
<circle cx="430.03" cy="212.30" r="1.5"/>
<circle cx="430.24" cy="212.32" r="1.5"/>
<circle cx="430.45" cy="212.33" r="1.5"/>
<circle cx="430.67" cy="212.35" r="1.5"/>
<circle cx="430.88" cy="212.36" r="1.5"/>
<circle cx="431.09" cy="212.38" r="1.5"/>
<circle cx="431.31" cy="212.39" r="1.5"/>
<circle cx="431.52" cy="212.41" r="1.5"/>
<circle cx="431.73" cy="212.42" r="1.5"/>
<circle cx="431.95" cy="212.44" r="1.5"/>
<circle cx="432.16" cy="212.45" r="1.5"/>
<circle cx="432.37" cy="212.47" r="1.5"/>
<circle cx="432.59" cy="212.48" r="1.5"/>
<circle cx="432.80" cy="212.50" r="1.5"/>
<circle cx="433.01" cy="212.51" r="1.5"/>
<circle cx="433.23" cy="212.53" r="1.5"/>
<circle cx="433.44" cy="212.54" r="1.5"/>
<circle cx="433.65" cy="212.56" r="1.5"/>
<circle cx="433.87" cy="212.57" r="1.5"/>
<circle cx="434.08" cy="212.59" r="1.5"/>
<circle cx="434.29" cy="212.60" r="1.5"/>
<circle cx="434.51" cy="212.62" r="1.5"/>
<circle cx="434.72" cy="212.63" r="1.5"/>
<circle cx="434.93" cy="212.65" r="1.5"/>
<circle cx="435.15" cy="212.66" r="1.5"/>
<circle cx="435.36" cy="212.68" r="1.5"/>
<circle cx="435.57" cy="212.69" r="1.5"/>
<circle cx="435.79" cy="212.71" r="1.5"/>
<circle cx="436.00" cy="212.73" r="1.5"/>
<circle cx="436.21" cy="212.74" r="1.5"/>
<circle cx="436.43" cy="212.76" r="1.5"/>
<circle cx="436.64" cy="212.77" r="1.5"/>
<circle cx="436.85" cy="212.79" r="1.5"/>
<circle cx="437.07" cy="212.80" r="1.5"/>
<circle cx="437.28" cy="212.82" r="1.5"/>
<circle cx="437.49" cy="212.83" r="1.5"/>
<circle cx="437.71" cy="212.85" r="1.5"/>
<circle cx="437.92" cy="212.86" r="1.5"/>
<circle cx="438.13" cy="212.88" r="1.5"/>
<circle cx="438.34" cy="212.89" r="1.5"/>
<circle cx="438.56" cy="212.91" r="1.5"/>
<circle cx="438.77" cy="212.92" r="1.5"/>
<circle cx="438.98" cy="212.94" r="1.5"/>
<circle cx="439.20" cy="212.95" r="1.5"/>
<circle cx="439.41" cy="212.97" r="1.5"/>
<circle cx="439.62" cy="212.98" r="1.5"/>
<circle cx="439.84" cy="213.00" r="1.5"/>
<circle cx="440.05" cy="213.01" r="1.5"/>
<circle cx="440.26" cy="213.06" r="1.5"/>
<circle cx="440.48" cy="213.12" r="1.5"/>
<circle cx="440.69" cy="213.17" r="1.5"/>
<circle cx="440.90" cy="213.22" r="1.5"/>
<circle cx="441.12" cy="213.28" r="1.5"/>
<circle cx="441.33" cy="213.33" r="1.5"/>
<circle cx="441.54" cy="213.38" r="1.5"/>
<circle cx="441.76" cy="213.44" r="1.5"/>
<circle cx="441.97" cy="213.49" r="1.5"/>
<circle cx="442.18" cy="213.54" r="1.5"/>
<circle cx="442.40" cy="213.60" r="1.5"/>
<circle cx="442.61" cy="213.65" r="1.5"/>
<circle cx="442.82" cy="213.70" r="1.5"/>
<circle cx="443.04" cy="213.76" r="1.5"/>
<circle cx="443.25" cy="213.81" r="1.5"/>
<circle cx="443.46" cy="213.86" r="1.5"/>
<circle cx="443.68" cy="213.92" r="1.5"/>
<circle cx="443.89" cy="213.97" r="1.5"/>
<circle cx="444.10" cy="214.02" r="1.5"/>
<circle cx="444.32" cy="214.08" r="1.5"/>
<circle cx="444.53" cy="214.13" r="1.5"/>
<circle cx="444.74" cy="214.18" r="1.5"/>
<circle cx="444.96" cy="214.24" r="1.5"/>
<circle cx="445.17" cy="214.29" r="1.5"/>
<circle cx="445.38" cy="214.34" r="1.5"/>
<circle cx="445.60" cy="214.40" r="1.5"/>
<circle cx="445.81" cy="214.45" r="1.5"/>
<circle cx="446.02" cy="214.50" r="1.5"/>
<circle cx="446.24" cy="214.56" r="1.5"/>
<circle cx="446.45" cy="214.61" r="1.5"/>
<circle cx="446.66" cy="214.66" r="1.5"/>
<circle cx="446.88" cy="214.72" r="1.5"/>
<circle cx="447.09" cy="214.77" r="1.5"/>
<circle cx="447.30" cy="214.82" r="1.5"/>
<circle cx="447.52" cy="214.88" r="1.5"/>
<circle cx="447.73" cy="214.93" r="1.5"/>
<circle cx="447.94" cy="214.98" r="1.5"/>
<circle cx="448.16" cy="215.14" r="1.5"/>
<circle cx="448.37" cy="215.30" r="1.5"/>
<circle cx="448.58" cy="215.46" r="1.5"/>
<circle cx="448.80" cy="215.62" r="1.5"/>
<circle cx="449.01" cy="215.78" r="1.5"/>
<circle cx="449.22" cy="215.93" r="1.5"/>
<circle cx="449.44" cy="216.09" r="1.5"/>
<circle cx="449.65" cy="216.25" r="1.5"/>
<circle cx="449.86" cy="216.41" r="1.5"/>
<circle cx="450.08" cy="216.57" r="1.5"/>
<circle cx="450.29" cy="216.73" r="1.5"/>
<circle cx="450.50" cy="216.89" r="1.5"/>
<circle cx="450.72" cy="217.04" r="1.5"/>
<circle cx="450.93" cy="217.20" r="1.5"/>
<circle cx="451.14" cy="217.36" r="1.5"/>
<circle cx="451.36" cy="217.52" r="1.5"/>
<circle cx="451.57" cy="217.68" r="1.5"/>
<circle cx="451.78" cy="217.84" r="1.5"/>
<circle cx="452.00" cy="218.00" r="1.5"/>
<circle cx="452.21" cy="218.45" r="1.5"/>
<circle cx="452.42" cy="218.91" r="1.5"/>
<circle cx="452.64" cy="219.36" r="1.5"/>
<circle cx="452.85" cy="219.82" r="1.5"/>
<circle cx="453.06" cy="220.27" r="1.5"/>
<circle cx="453.28" cy="220.73" r="1.5"/>
<circle cx="453.49" cy="221.19" r="1.5"/>
<circle cx="453.70" cy="221.64" r="1.5"/>
<circle cx="453.92" cy="222.10" r="1.5"/>
<circle cx="454.13" cy="222.55" r="1.5"/>
<circle cx="454.34" cy="223.01" r="1.5"/>
<circle cx="454.56" cy="223.46" r="1.5"/>
<circle cx="454.77" cy="224.26" r="1.5"/>
<circle cx="454.98" cy="225.06" r="1.5"/>
<circle cx="455.20" cy="225.86" r="1.5"/>
<circle cx="455.41" cy="226.65" r="1.5"/>
<circle cx="455.62" cy="227.45" r="1.5"/>
<circle cx="455.84" cy="228.25" r="1.5"/>
<circle cx="456.05" cy="229.04" r="1.5"/>
<circle cx="456.26" cy="229.88" r="1.5"/>
<circle cx="456.48" cy="230.72" r="1.5"/>
<circle cx="456.69" cy="231.55" r="1.5"/>
<circle cx="456.90" cy="232.39" r="1.5"/>
</g>
<text x="304.20" y="189.50" font-size="5.3" fill="#1e6643" textLength="22.80" lengthAdjust="spacingAndGlyphs">RB1 sgRNA</text>
<text x="321.20" y="199.20" font-size="5.3" fill="#62ae3c" textLength="32.50" lengthAdjust="spacingAndGlyphs">CDKN2C sgRNA</text>
<text x="258.50" y="16.60" font-size="11.4" fill="#000" font-weight="bold" stroke="#000" stroke-width="0.3">C</text>
<text x="404.80" y="13.20" font-size="7.7" fill="#000" text-anchor="middle" textLength="24.60" lengthAdjust="spacingAndGlyphs">Z-score</text>
<text x="349.50" y="24.10" font-size="7.2" fill="#000" text-anchor="middle" textLength="71.60" lengthAdjust="spacingAndGlyphs">bortezomib continuous</text>
<text x="459.80" y="24.10" font-size="7.2" fill="#000" text-anchor="middle" textLength="72.40" lengthAdjust="spacingAndGlyphs">bortezomib intermittent</text>
<text x="322.00" y="35.80" font-size="8.2" fill="#000" text-anchor="middle" textLength="14.40" lengthAdjust="spacingAndGlyphs" stroke="#000" stroke-width="0.2">OPM2</text>
<line x1="296.20" y1="52.70" x2="347.50" y2="52.70" stroke="#000" stroke-width="1.0"/>
<line x1="299.20" y1="49.40" x2="299.20" y2="52.70" stroke="#000" stroke-width="0.75"/>
<line x1="301.48" y1="51.00" x2="301.48" y2="52.70" stroke="#000" stroke-width="0.6"/>
<line x1="303.76" y1="51.00" x2="303.76" y2="52.70" stroke="#000" stroke-width="0.6"/>
<line x1="306.04" y1="51.00" x2="306.04" y2="52.70" stroke="#000" stroke-width="0.6"/>
<line x1="308.32" y1="51.00" x2="308.32" y2="52.70" stroke="#000" stroke-width="0.6"/>
<line x1="310.60" y1="49.40" x2="310.60" y2="52.70" stroke="#000" stroke-width="0.75"/>
<line x1="312.88" y1="51.00" x2="312.88" y2="52.70" stroke="#000" stroke-width="0.6"/>
<line x1="315.16" y1="51.00" x2="315.16" y2="52.70" stroke="#000" stroke-width="0.6"/>
<line x1="317.44" y1="51.00" x2="317.44" y2="52.70" stroke="#000" stroke-width="0.6"/>
<line x1="319.72" y1="51.00" x2="319.72" y2="52.70" stroke="#000" stroke-width="0.6"/>
<line x1="322.00" y1="49.40" x2="322.00" y2="52.70" stroke="#000" stroke-width="0.75"/>
<line x1="324.28" y1="51.00" x2="324.28" y2="52.70" stroke="#000" stroke-width="0.6"/>
<line x1="326.56" y1="51.00" x2="326.56" y2="52.70" stroke="#000" stroke-width="0.6"/>
<line x1="328.84" y1="51.00" x2="328.84" y2="52.70" stroke="#000" stroke-width="0.6"/>
<line x1="331.12" y1="51.00" x2="331.12" y2="52.70" stroke="#000" stroke-width="0.6"/>
<line x1="333.40" y1="49.40" x2="333.40" y2="52.70" stroke="#000" stroke-width="0.75"/>
<line x1="335.68" y1="51.00" x2="335.68" y2="52.70" stroke="#000" stroke-width="0.6"/>
<line x1="337.96" y1="51.00" x2="337.96" y2="52.70" stroke="#000" stroke-width="0.6"/>
<line x1="340.24" y1="51.00" x2="340.24" y2="52.70" stroke="#000" stroke-width="0.6"/>
<line x1="342.52" y1="51.00" x2="342.52" y2="52.70" stroke="#000" stroke-width="0.6"/>
<line x1="344.80" y1="49.40" x2="344.80" y2="52.70" stroke="#000" stroke-width="0.75"/>
<text x="298.30" y="45.30" font-size="5.3" fill="#000" text-anchor="middle">-10</text>
<text x="309.70" y="45.30" font-size="5.3" fill="#000" text-anchor="middle">-5</text>
<text x="322.00" y="45.30" font-size="5.3" fill="#000" text-anchor="middle">0</text>
<text x="333.40" y="45.30" font-size="5.3" fill="#000" text-anchor="middle">5</text>
<text x="344.80" y="45.30" font-size="5.3" fill="#000" text-anchor="middle">10</text>
<line x1="322.00" y1="53.30" x2="322.00" y2="128.50" stroke="#999" stroke-width="0.9" stroke-dasharray="1.0 1.2"/>
<text x="377.10" y="35.80" font-size="8.2" fill="#000" text-anchor="middle" textLength="14.60" lengthAdjust="spacingAndGlyphs" stroke="#000" stroke-width="0.2">MM1S</text>
<line x1="351.30" y1="52.70" x2="402.60" y2="52.70" stroke="#000" stroke-width="1.0"/>
<line x1="354.30" y1="49.40" x2="354.30" y2="52.70" stroke="#000" stroke-width="0.75"/>
<line x1="356.58" y1="51.00" x2="356.58" y2="52.70" stroke="#000" stroke-width="0.6"/>
<line x1="358.86" y1="51.00" x2="358.86" y2="52.70" stroke="#000" stroke-width="0.6"/>
<line x1="361.14" y1="51.00" x2="361.14" y2="52.70" stroke="#000" stroke-width="0.6"/>
<line x1="363.42" y1="51.00" x2="363.42" y2="52.70" stroke="#000" stroke-width="0.6"/>
<line x1="365.70" y1="49.40" x2="365.70" y2="52.70" stroke="#000" stroke-width="0.75"/>
<line x1="367.98" y1="51.00" x2="367.98" y2="52.70" stroke="#000" stroke-width="0.6"/>
<line x1="370.26" y1="51.00" x2="370.26" y2="52.70" stroke="#000" stroke-width="0.6"/>
<line x1="372.54" y1="51.00" x2="372.54" y2="52.70" stroke="#000" stroke-width="0.6"/>
<line x1="374.82" y1="51.00" x2="374.82" y2="52.70" stroke="#000" stroke-width="0.6"/>
<line x1="377.10" y1="49.40" x2="377.10" y2="52.70" stroke="#000" stroke-width="0.75"/>
<line x1="379.38" y1="51.00" x2="379.38" y2="52.70" stroke="#000" stroke-width="0.6"/>
<line x1="381.66" y1="51.00" x2="381.66" y2="52.70" stroke="#000" stroke-width="0.6"/>
<line x1="383.94" y1="51.00" x2="383.94" y2="52.70" stroke="#000" stroke-width="0.6"/>
<line x1="386.22" y1="51.00" x2="386.22" y2="52.70" stroke="#000" stroke-width="0.6"/>
<line x1="388.50" y1="49.40" x2="388.50" y2="52.70" stroke="#000" stroke-width="0.75"/>
<line x1="390.78" y1="51.00" x2="390.78" y2="52.70" stroke="#000" stroke-width="0.6"/>
<line x1="393.06" y1="51.00" x2="393.06" y2="52.70" stroke="#000" stroke-width="0.6"/>
<line x1="395.34" y1="51.00" x2="395.34" y2="52.70" stroke="#000" stroke-width="0.6"/>
<line x1="397.62" y1="51.00" x2="397.62" y2="52.70" stroke="#000" stroke-width="0.6"/>
<line x1="399.90" y1="49.40" x2="399.90" y2="52.70" stroke="#000" stroke-width="0.75"/>
<text x="353.40" y="45.30" font-size="5.3" fill="#000" text-anchor="middle">-10</text>
<text x="364.80" y="45.30" font-size="5.3" fill="#000" text-anchor="middle">-5</text>
<text x="377.10" y="45.30" font-size="5.3" fill="#000" text-anchor="middle">0</text>
<text x="388.50" y="45.30" font-size="5.3" fill="#000" text-anchor="middle">5</text>
<text x="399.90" y="45.30" font-size="5.3" fill="#000" text-anchor="middle">10</text>
<line x1="377.10" y1="53.30" x2="377.10" y2="128.50" stroke="#999" stroke-width="0.9" stroke-dasharray="1.0 1.2"/>
<text x="431.90" y="35.80" font-size="8.2" fill="#000" text-anchor="middle" textLength="38.40" lengthAdjust="spacingAndGlyphs" stroke="#000" stroke-width="0.2">MM1S 1h 100nM</text>
<line x1="406.10" y1="52.70" x2="457.40" y2="52.70" stroke="#000" stroke-width="1.0"/>
<line x1="409.10" y1="49.40" x2="409.10" y2="52.70" stroke="#000" stroke-width="0.75"/>
<line x1="411.38" y1="51.00" x2="411.38" y2="52.70" stroke="#000" stroke-width="0.6"/>
<line x1="413.66" y1="51.00" x2="413.66" y2="52.70" stroke="#000" stroke-width="0.6"/>
<line x1="415.94" y1="51.00" x2="415.94" y2="52.70" stroke="#000" stroke-width="0.6"/>
<line x1="418.22" y1="51.00" x2="418.22" y2="52.70" stroke="#000" stroke-width="0.6"/>
<line x1="420.50" y1="49.40" x2="420.50" y2="52.70" stroke="#000" stroke-width="0.75"/>
<line x1="422.78" y1="51.00" x2="422.78" y2="52.70" stroke="#000" stroke-width="0.6"/>
<line x1="425.06" y1="51.00" x2="425.06" y2="52.70" stroke="#000" stroke-width="0.6"/>
<line x1="427.34" y1="51.00" x2="427.34" y2="52.70" stroke="#000" stroke-width="0.6"/>
<line x1="429.62" y1="51.00" x2="429.62" y2="52.70" stroke="#000" stroke-width="0.6"/>
<line x1="431.90" y1="49.40" x2="431.90" y2="52.70" stroke="#000" stroke-width="0.75"/>
<line x1="434.18" y1="51.00" x2="434.18" y2="52.70" stroke="#000" stroke-width="0.6"/>
<line x1="436.46" y1="51.00" x2="436.46" y2="52.70" stroke="#000" stroke-width="0.6"/>
<line x1="438.74" y1="51.00" x2="438.74" y2="52.70" stroke="#000" stroke-width="0.6"/>
<line x1="441.02" y1="51.00" x2="441.02" y2="52.70" stroke="#000" stroke-width="0.6"/>
<line x1="443.30" y1="49.40" x2="443.30" y2="52.70" stroke="#000" stroke-width="0.75"/>
<line x1="445.58" y1="51.00" x2="445.58" y2="52.70" stroke="#000" stroke-width="0.6"/>
<line x1="447.86" y1="51.00" x2="447.86" y2="52.70" stroke="#000" stroke-width="0.6"/>
<line x1="450.14" y1="51.00" x2="450.14" y2="52.70" stroke="#000" stroke-width="0.6"/>
<line x1="452.42" y1="51.00" x2="452.42" y2="52.70" stroke="#000" stroke-width="0.6"/>
<line x1="454.70" y1="49.40" x2="454.70" y2="52.70" stroke="#000" stroke-width="0.75"/>
<text x="408.20" y="45.30" font-size="5.3" fill="#000" text-anchor="middle">-10</text>
<text x="419.60" y="45.30" font-size="5.3" fill="#000" text-anchor="middle">-5</text>
<text x="431.90" y="45.30" font-size="5.3" fill="#000" text-anchor="middle">0</text>
<text x="443.30" y="45.30" font-size="5.3" fill="#000" text-anchor="middle">5</text>
<text x="454.70" y="45.30" font-size="5.3" fill="#000" text-anchor="middle">10</text>
<text x="487.00" y="35.80" font-size="8.2" fill="#000" text-anchor="middle" textLength="38.40" lengthAdjust="spacingAndGlyphs" stroke="#000" stroke-width="0.2">MM1S 4h 100nM</text>
<line x1="461.20" y1="52.70" x2="512.50" y2="52.70" stroke="#000" stroke-width="1.0"/>
<line x1="464.20" y1="49.40" x2="464.20" y2="52.70" stroke="#000" stroke-width="0.75"/>
<line x1="466.48" y1="51.00" x2="466.48" y2="52.70" stroke="#000" stroke-width="0.6"/>
<line x1="468.76" y1="51.00" x2="468.76" y2="52.70" stroke="#000" stroke-width="0.6"/>
<line x1="471.04" y1="51.00" x2="471.04" y2="52.70" stroke="#000" stroke-width="0.6"/>
<line x1="473.32" y1="51.00" x2="473.32" y2="52.70" stroke="#000" stroke-width="0.6"/>
<line x1="475.60" y1="49.40" x2="475.60" y2="52.70" stroke="#000" stroke-width="0.75"/>
<line x1="477.88" y1="51.00" x2="477.88" y2="52.70" stroke="#000" stroke-width="0.6"/>
<line x1="480.16" y1="51.00" x2="480.16" y2="52.70" stroke="#000" stroke-width="0.6"/>
<line x1="482.44" y1="51.00" x2="482.44" y2="52.70" stroke="#000" stroke-width="0.6"/>
<line x1="484.72" y1="51.00" x2="484.72" y2="52.70" stroke="#000" stroke-width="0.6"/>
<line x1="487.00" y1="49.40" x2="487.00" y2="52.70" stroke="#000" stroke-width="0.75"/>
<line x1="489.28" y1="51.00" x2="489.28" y2="52.70" stroke="#000" stroke-width="0.6"/>
<line x1="491.56" y1="51.00" x2="491.56" y2="52.70" stroke="#000" stroke-width="0.6"/>
<line x1="493.84" y1="51.00" x2="493.84" y2="52.70" stroke="#000" stroke-width="0.6"/>
<line x1="496.12" y1="51.00" x2="496.12" y2="52.70" stroke="#000" stroke-width="0.6"/>
<line x1="498.40" y1="49.40" x2="498.40" y2="52.70" stroke="#000" stroke-width="0.75"/>
<line x1="500.68" y1="51.00" x2="500.68" y2="52.70" stroke="#000" stroke-width="0.6"/>
<line x1="502.96" y1="51.00" x2="502.96" y2="52.70" stroke="#000" stroke-width="0.6"/>
<line x1="505.24" y1="51.00" x2="505.24" y2="52.70" stroke="#000" stroke-width="0.6"/>
<line x1="507.52" y1="51.00" x2="507.52" y2="52.70" stroke="#000" stroke-width="0.6"/>
<line x1="509.80" y1="49.40" x2="509.80" y2="52.70" stroke="#000" stroke-width="0.75"/>
<text x="463.30" y="45.30" font-size="5.3" fill="#000" text-anchor="middle">-10</text>
<text x="474.70" y="45.30" font-size="5.3" fill="#000" text-anchor="middle">-5</text>
<text x="487.00" y="45.30" font-size="5.3" fill="#000" text-anchor="middle">0</text>
<text x="498.40" y="45.30" font-size="5.3" fill="#000" text-anchor="middle">5</text>
<text x="509.80" y="45.30" font-size="5.3" fill="#000" text-anchor="middle">10</text>
<text x="275.80" y="45.30" font-size="5.3" fill="#000" textLength="15.90" lengthAdjust="spacingAndGlyphs">sgRNA</text>
<line x1="322.30" y1="64.30" x2="328.60" y2="64.30" stroke="#a80f30" stroke-width="1.3" stroke-linecap="round"/>
<circle cx="333.00" cy="64.30" r="0.95" fill="#a80f30"/>
<line x1="326.10" y1="61.00" x2="326.10" y2="66.80" stroke="#a4a4a4" stroke-width="1.8" stroke-linecap="round"/>
<circle cx="323.00" cy="73.80" r="0.7" fill="#e5961f"/>
<circle cx="324.60" cy="73.80" r="0.7" fill="#e5961f"/>
<circle cx="327.80" cy="72.30" r="0.7" fill="#e5961f"/>
<circle cx="326.30" cy="75.70" r="0.7" fill="#e5961f"/>
<line x1="325.50" y1="70.50" x2="325.50" y2="76.70" stroke="#4a4a4a" stroke-width="0.8" stroke-linecap="round"/>
<line x1="318.80" y1="80.20" x2="318.80" y2="86.00" stroke="#4f9ee0" stroke-width="1.2" stroke-linecap="round"/>
<circle cx="318.40" cy="85.60" r="0.9" fill="#4f9ee0"/>
<line x1="318.30" y1="90.00" x2="318.30" y2="95.00" stroke="#23418c" stroke-width="1.0" stroke-linecap="round"/>
<circle cx="314.90" cy="92.60" r="0.75" fill="#23418c"/>
<circle cx="321.30" cy="92.90" r="0.75" fill="#23418c"/>
<circle cx="318.00" cy="94.50" r="0.8" fill="#23418c"/>
<line x1="322.30" y1="99.60" x2="322.30" y2="105.20" stroke="#1e6643" stroke-width="1.0" stroke-linecap="round"/>
<line x1="322.20" y1="103.40" x2="324.00" y2="103.40" stroke="#1e6643" stroke-width="0.9" stroke-linecap="round"/>
<line x1="320.00" y1="110.60" x2="323.60" y2="110.60" stroke="#62ae3c" stroke-width="1.0" stroke-linecap="round"/>
<line x1="319.80" y1="113.60" x2="323.00" y2="113.60" stroke="#62ae3c" stroke-width="1.0" stroke-linecap="round"/>
<line x1="321.60" y1="109.00" x2="321.60" y2="116.00" stroke="#4a4a4a" stroke-width="0.8" stroke-linecap="round"/>
<line x1="377.40" y1="61.40" x2="377.40" y2="66.40" stroke="#a80f30" stroke-width="1.2" stroke-linecap="round"/>
<circle cx="377.30" cy="61.60" r="0.9" fill="#a80f30"/>
<circle cx="377.40" cy="65.90" r="0.9" fill="#a80f30"/>
<circle cx="380.30" cy="63.80" r="0.95" fill="#a80f30"/>
<line x1="377.30" y1="64.00" x2="379.20" y2="64.00" stroke="#a80f30" stroke-width="1.0" stroke-linecap="round"/>
<line x1="378.30" y1="70.00" x2="378.30" y2="76.00" stroke="#777" stroke-width="0.8" stroke-linecap="round"/>
<line x1="377.50" y1="70.00" x2="377.50" y2="75.60" stroke="#e5961f" stroke-width="0.9" stroke-linecap="round"/>
<circle cx="380.30" cy="72.00" r="0.7" fill="#e5961f"/>
<circle cx="377.00" cy="74.60" r="0.8" fill="#e5961f"/>
<line x1="377.30" y1="80.20" x2="377.30" y2="85.80" stroke="#4f9ee0" stroke-width="1.0" stroke-linecap="round"/>
<circle cx="379.80" cy="82.40" r="0.8" fill="#4f9ee0"/>
<circle cx="376.30" cy="85.40" r="0.8" fill="#4f9ee0"/>
<line x1="377.80" y1="89.00" x2="377.80" y2="94.80" stroke="#23418c" stroke-width="1.0" stroke-linecap="round"/>
<circle cx="379.00" cy="90.60" r="0.7" fill="#23418c"/>
<circle cx="379.10" cy="93.80" r="0.7" fill="#23418c"/>
<circle cx="376.60" cy="91.80" r="0.7" fill="#23418c"/>
<line x1="376.90" y1="98.80" x2="376.90" y2="105.00" stroke="#1e6643" stroke-width="1.0" stroke-linecap="round"/>
<line x1="375.80" y1="104.50" x2="379.00" y2="104.50" stroke="#1e6643" stroke-width="1.0" stroke-linecap="round"/>
<line x1="377.00" y1="108.50" x2="377.00" y2="114.30" stroke="#888" stroke-width="0.8" stroke-linecap="round"/>
<line x1="377.20" y1="108.80" x2="377.20" y2="114.00" stroke="#62ae3c" stroke-width="1.1" stroke-linecap="round"/>
<circle cx="372.30" cy="111.50" r="0.85" fill="#62ae3c"/>
<circle cx="379.50" cy="111.50" r="0.85" fill="#62ae3c"/>
<line x1="432.30" y1="61.20" x2="432.30" y2="66.50" stroke="#a80f30" stroke-width="1.0" stroke-linecap="round"/>
<line x1="430.90" y1="62.40" x2="433.90" y2="62.40" stroke="#a80f30" stroke-width="1.6" stroke-linecap="round"/>
<line x1="430.30" y1="65.40" x2="433.40" y2="65.40" stroke="#a80f30" stroke-width="1.6" stroke-linecap="round"/>
<line x1="433.10" y1="70.00" x2="433.10" y2="76.20" stroke="#777" stroke-width="0.8" stroke-linecap="round"/>
<line x1="432.80" y1="71.00" x2="432.80" y2="76.00" stroke="#e5961f" stroke-width="0.9" stroke-linecap="round"/>
<circle cx="427.60" cy="73.60" r="0.75" fill="#e5961f"/>
<circle cx="436.00" cy="73.60" r="0.75" fill="#e5961f"/>
<line x1="429.00" y1="81.50" x2="431.60" y2="81.50" stroke="#4f9ee0" stroke-width="1.1" stroke-linecap="round"/>
<line x1="429.20" y1="84.80" x2="431.60" y2="84.80" stroke="#4f9ee0" stroke-width="1.1" stroke-linecap="round"/>
<line x1="430.50" y1="81.00" x2="430.50" y2="85.40" stroke="#4f9ee0" stroke-width="1.0" stroke-linecap="round"/>
<circle cx="434.80" cy="82.70" r="0.75" fill="#4f9ee0"/>
<line x1="431.80" y1="89.00" x2="431.80" y2="95.20" stroke="#23418c" stroke-width="1.1" stroke-linecap="round"/>
<circle cx="436.00" cy="92.10" r="0.8" fill="#23418c"/>
<line x1="433.20" y1="99.50" x2="433.20" y2="104.50" stroke="#1e6643" stroke-width="1.0" stroke-linecap="round"/>
<line x1="432.50" y1="102.30" x2="435.00" y2="102.30" stroke="#1e6643" stroke-width="1.0" stroke-linecap="round"/>
<circle cx="435.80" cy="99.40" r="0.7" fill="#1e6643"/>
<circle cx="436.00" cy="104.60" r="0.8" fill="#1e6643"/>
<line x1="434.20" y1="108.20" x2="434.20" y2="115.00" stroke="#4a4a4a" stroke-width="0.8" stroke-linecap="round"/>
<line x1="433.80" y1="109.40" x2="433.80" y2="113.80" stroke="#62ae3c" stroke-width="1.2" stroke-linecap="round"/>
<circle cx="438.60" cy="111.30" r="0.85" fill="#62ae3c"/>
<line x1="487.50" y1="61.40" x2="487.50" y2="66.20" stroke="#a80f30" stroke-width="1.0" stroke-linecap="round"/>
<circle cx="486.60" cy="62.10" r="0.95" fill="#a80f30"/>
<circle cx="490.80" cy="63.40" r="0.95" fill="#a80f30"/>
<circle cx="485.60" cy="65.40" r="0.95" fill="#a80f30"/>
<circle cx="488.30" cy="65.40" r="0.95" fill="#a80f30"/>
<line x1="488.30" y1="70.00" x2="488.30" y2="76.50" stroke="#777" stroke-width="0.8" stroke-linecap="round"/>
<line x1="488.90" y1="70.60" x2="488.90" y2="76.20" stroke="#e5961f" stroke-width="0.9" stroke-linecap="round"/>
<circle cx="488.80" cy="70.80" r="0.8" fill="#e5961f"/>
<circle cx="485.60" cy="73.80" r="0.75" fill="#e5961f"/>
<circle cx="489.30" cy="76.20" r="0.8" fill="#e5961f"/>
<line x1="486.30" y1="80.00" x2="486.30" y2="84.90" stroke="#4f9ee0" stroke-width="1.2" stroke-linecap="round"/>
<circle cx="484.70" cy="82.70" r="0.75" fill="#4f9ee0"/>
<circle cx="490.60" cy="82.70" r="0.75" fill="#4f9ee0"/>
<line x1="486.30" y1="89.30" x2="486.30" y2="95.30" stroke="#23418c" stroke-width="1.2" stroke-linecap="round"/>
<circle cx="488.80" cy="92.30" r="0.75" fill="#23418c"/>
<circle cx="485.80" cy="95.00" r="0.8" fill="#23418c"/>
<line x1="489.60" y1="98.90" x2="489.60" y2="104.00" stroke="#1e6643" stroke-width="1.2" stroke-linecap="round"/>
<circle cx="493.00" cy="101.80" r="1.0" fill="#1e6643"/>
<line x1="487.60" y1="104.00" x2="490.00" y2="104.00" stroke="#1e6643" stroke-width="0.9" stroke-linecap="round"/>
<line x1="489.20" y1="108.50" x2="489.20" y2="114.20" stroke="#62ae3c" stroke-width="1.3" stroke-linecap="round"/>
<circle cx="494.80" cy="111.30" r="0.85" fill="#62ae3c"/>
<line x1="431.90" y1="53.30" x2="431.90" y2="128.50" stroke="#555" stroke-width="0.8" stroke-dasharray="0.9 1.3"/>
<line x1="487.00" y1="53.30" x2="487.00" y2="128.50" stroke="#555" stroke-width="0.8" stroke-dasharray="0.9 1.3"/>
<path d="M313.50 121.40H330.00" stroke="#cbcbd1" stroke-width="1.2"/>
<path d="M317.30 121.40C319.55 120.80 320.55 118.00 322.30 118.00C324.08 118.00 325.11 120.80 327.40 121.40C325.11 122.00 324.08 124.80 322.30 124.80C320.55 124.80 319.55 122.00 317.30 121.40Z" fill="#cbcbd1"/>
<circle cx="306.50" cy="121.40" r="0.6" fill="#c4c4ca"/>
<circle cx="308.50" cy="121.40" r="0.6" fill="#c4c4ca"/>
<circle cx="310.80" cy="121.40" r="0.6" fill="#c4c4ca"/>
<circle cx="331.50" cy="121.40" r="0.6" fill="#c4c4ca"/>
<path d="M369.30 121.20H386.60" stroke="#cbcbd1" stroke-width="1.2"/>
<path d="M372.20 121.20C374.45 120.60 375.45 117.80 377.20 117.80C378.95 117.80 379.95 120.60 382.20 121.20C379.95 121.80 378.95 124.60 377.20 124.60C375.45 124.60 374.45 121.80 372.20 121.20Z" fill="#cbcbd1"/>
<circle cx="358.00" cy="121.20" r="0.6" fill="#c4c4ca"/>
<circle cx="362.40" cy="121.20" r="0.6" fill="#c4c4ca"/>
<path d="M424.60 121.20H440.20" stroke="#cbcbd1" stroke-width="1.2"/>
<path d="M427.20 121.20C429.45 120.60 430.45 117.80 432.20 117.80C433.95 117.80 434.95 120.60 437.20 121.20C434.95 121.80 433.95 124.60 432.20 124.60C430.45 124.60 429.45 121.80 427.20 121.20Z" fill="#cbcbd1"/>
<circle cx="416.00" cy="121.20" r="0.6" fill="#c4c4ca"/>
<circle cx="419.80" cy="121.20" r="0.6" fill="#c4c4ca"/>
<circle cx="423.00" cy="121.20" r="0.6" fill="#c4c4ca"/>
<path d="M479.80 121.20H495.40" stroke="#cbcbd1" stroke-width="1.2"/>
<path d="M483.00 121.20C484.94 120.60 485.80 117.80 487.30 117.80C488.81 117.80 489.67 120.60 491.60 121.20C489.67 121.80 488.81 124.60 487.30 124.60C485.80 124.60 484.94 121.80 483.00 121.20Z" fill="#cbcbd1"/>
<circle cx="472.30" cy="121.20" r="0.6" fill="#c4c4ca"/>
<circle cx="475.30" cy="121.20" r="0.6" fill="#c4c4ca"/>
<circle cx="478.60" cy="121.20" r="0.6" fill="#c4c4ca"/>
<line x1="292.30" y1="57.60" x2="292.30" y2="128.30" stroke="#000" stroke-width="1.1"/>
<line x1="290.00" y1="64.40" x2="292.30" y2="64.40" stroke="#000" stroke-width="0.9"/>
<text x="286.30" y="66.30" font-size="5.4" fill="#000" text-anchor="end">VPS35</text>
<line x1="290.00" y1="73.87" x2="292.30" y2="73.87" stroke="#000" stroke-width="0.9"/>
<text x="286.30" y="75.77" font-size="5.4" fill="#000" text-anchor="end">ZNF236</text>
<line x1="290.00" y1="83.34" x2="292.30" y2="83.34" stroke="#000" stroke-width="0.9"/>
<text x="286.30" y="85.24" font-size="5.4" fill="#000" text-anchor="end">NFKB2</text>
<line x1="290.00" y1="92.81" x2="292.30" y2="92.81" stroke="#000" stroke-width="0.9"/>
<text x="286.30" y="94.71" font-size="5.4" fill="#000" text-anchor="end">RIC1</text>
<line x1="290.00" y1="102.28" x2="292.30" y2="102.28" stroke="#000" stroke-width="0.9"/>
<text x="286.30" y="104.18" font-size="5.4" fill="#000" text-anchor="end">RB1</text>
<line x1="290.00" y1="111.75" x2="292.30" y2="111.75" stroke="#000" stroke-width="0.9"/>
<text x="286.30" y="113.65" font-size="5.4" fill="#000" text-anchor="end">CDKN2C</text>
<line x1="290.00" y1="121.22" x2="292.30" y2="121.22" stroke="#000" stroke-width="0.9"/>
<text x="286.30" y="123.12" font-size="5.4" fill="#000" text-anchor="end">all genes</text>
</svg>
<div style="position:absolute;left:0;top:0;width:520px;height:284px;box-sizing:border-box;border-top:1px solid #000;border-left:1px solid #000;border-right:1px solid #000;border-bottom:1px solid #000;"></div>
<div style="position:absolute;left:518px;top:1px;width:1px;height:282px;background:#b0b0b0;"></div>
<div style="position:absolute;left:1px;top:282px;width:517px;height:1px;background:#b0b0b0;"></div>
</body></html>
